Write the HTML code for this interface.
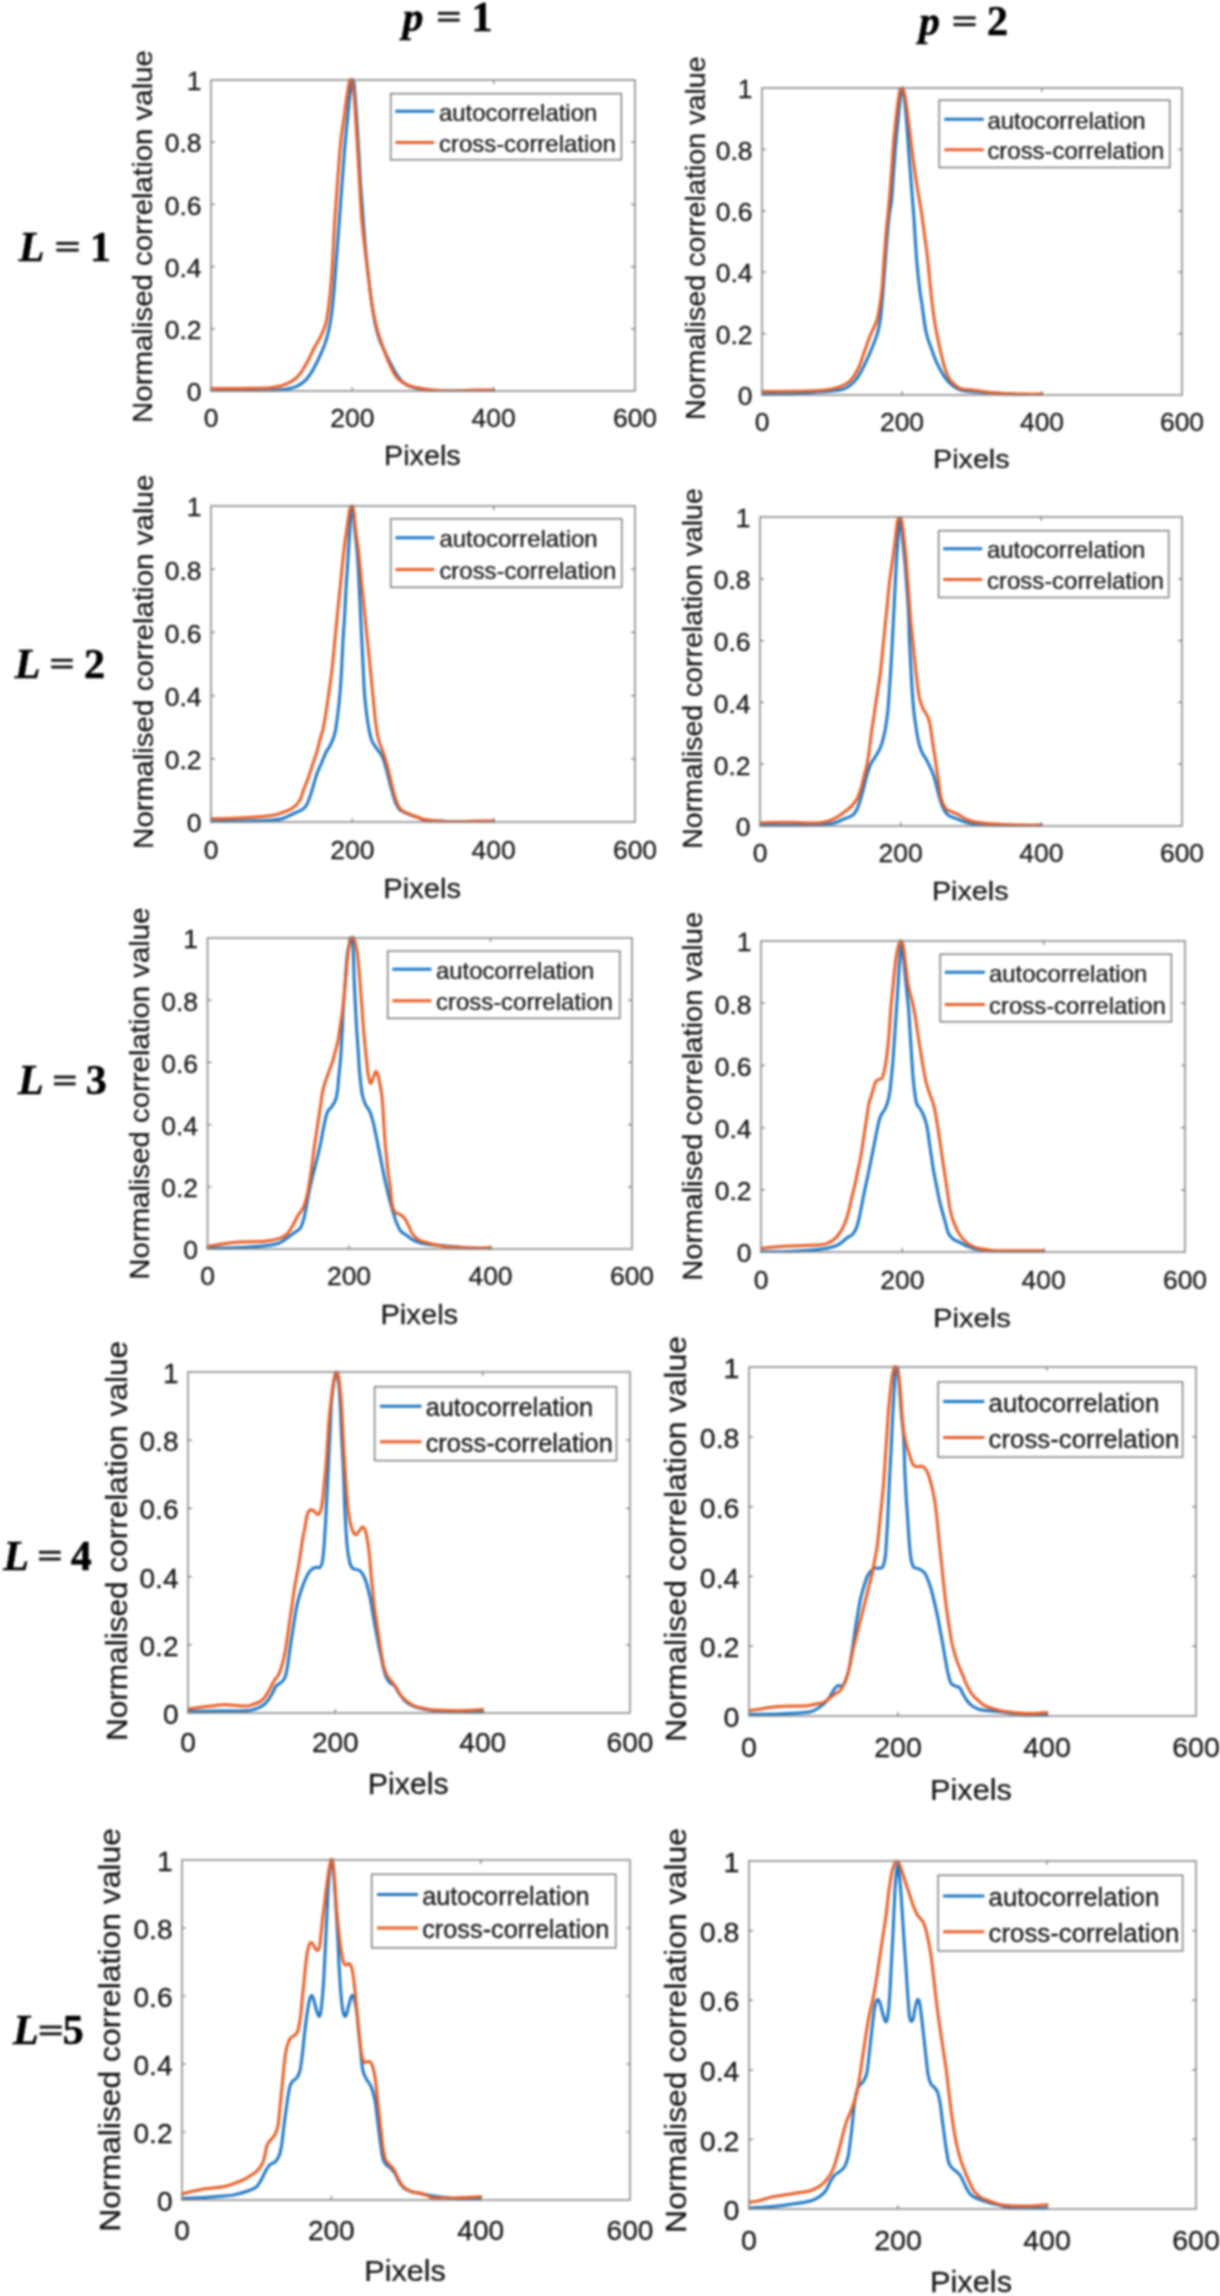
<!DOCTYPE html><html><head><meta charset="utf-8"><style>html,body{margin:0;padding:0;background:#fff;}svg{display:block;;}</style></head><body>
<svg width="1220" height="2296" viewBox="0 0 1220 2296">
<defs><filter id="bl" x="0" y="0" width="1" height="1" color-interpolation-filters="sRGB"><feGaussianBlur stdDeviation="0.8"/></filter></defs>
<g filter="url(#bl)">
<rect width="1220" height="2296" fill="#fff"/>
<g font-family="Liberation Sans, sans-serif">
<g><clipPath id="c0"><rect x="210" y="78" width="426" height="314"/></clipPath>
<path d="M211,390.4C215.7,390.4 229.4,390.3 239.3,390.4C249.1,390.4 262.4,390.9 270,390.8C277.6,390.6 280.3,390 284.8,389.3C289.2,388.5 293.1,387.8 296.6,386.3C300,384.8 302.7,383.1 305.4,380.4C308.1,377.7 310.3,374.2 312.8,370.1C315.2,365.9 318,360.2 320.2,355.3C322.4,350.4 324.5,345.5 326,340.6C327.6,335.7 328.7,330.7 329.7,325.8C330.7,320.9 331.2,317.2 332,311.1C332.7,304.9 333.4,297.5 334.2,288.9C334.9,280.3 335.6,269.2 336.4,259.4C337.1,249.6 337.9,239.8 338.6,229.9C339.4,220.1 340.1,210.3 340.8,200.4C341.5,190.6 342.3,180.7 343,170.9C343.7,161.1 344.5,150 345.3,141.4C346,132.8 346.7,126.6 347.5,119.2C348.2,111.9 348.9,103.5 349.6,97.1C350.4,90.7 351.4,83.7 351.9,80.9C352.4,78.1 352.3,79.7 352.6,80.2C353,80.6 353.5,78.6 354.1,83.9C354.7,89.1 355.5,101.1 356.3,111.9C357,122.7 357.8,136.5 358.6,148.8C359.3,161.1 360,174.6 360.7,185.6C361.5,196.7 362.2,205.3 362.9,215.2C363.7,225 364.3,234.8 365.2,244.7C366.1,254.5 367,264.4 368.1,274.2C369.2,284 370.6,295.1 371.8,303.7C373.1,312.3 374.2,319.7 375.5,325.8C376.9,332 377.8,335.2 379.9,340.6C382,346 385.2,352.6 388,358.3C390.8,363.9 394.1,370.3 396.9,374.5C399.6,378.7 401.3,381.1 404.3,383.3C407.2,385.6 409.9,386.6 414.6,387.8C419.3,389 426.4,390.2 432.3,390.8C438.2,391.3 442.7,391 450,391C457.3,391 468.7,390.7 476,390.7C483.3,390.6 490.7,390.7 493.7,390.7" fill="none" stroke="#1f78c6" stroke-width="3.0" stroke-linejoin="round" stroke-linecap="round" clip-path="url(#c0)"/>
<path d="M211,388.5C215.7,388.5 229.4,388.6 239.3,388.5C249.1,388.4 262.9,388.3 270,387.8C277.1,387.3 278.1,386.7 281.8,385.6C285.5,384.5 289.2,383 292.1,381.1C295.1,379.3 297,377.6 299.5,374.5C301.9,371.4 304.4,367.1 306.9,362.7C309.4,358.3 311.9,352.4 314.2,348C316.6,343.5 318.9,340.3 320.9,336.1C322.9,332 324.7,328.3 326,322.9C327.4,317.5 328.2,310.6 329,303.7C329.9,296.8 330.6,288.9 331.2,281.6C331.8,274.2 332.2,268 332.7,259.4C333.2,250.8 333.7,238.5 334.2,229.9C334.7,221.3 335,216.4 335.7,207.8C336.3,199.2 337,189.3 337.8,178.3C338.7,167.2 339.8,151.2 340.8,141.4C341.8,131.6 342.8,126.6 343.8,119.2C344.8,111.9 345.8,103.5 346.8,97.1C347.7,90.7 349,83.7 349.6,80.9C350.3,78.1 350.4,80.2 350.8,80.2C351.3,80.2 352,76.8 352.6,80.9C353.3,85 354.1,94.4 354.8,104.5C355.5,114.6 356.3,129.1 357.1,141.4C357.8,153.7 358.5,166 359.3,178.3C360,190.6 360.6,204.1 361.4,215.2C362.3,226.2 363.3,234.8 364.4,244.7C365.5,254.5 366.9,264.4 368.1,274.2C369.3,284 370.5,295.1 371.8,303.7C373.2,312.3 374.5,318.9 376.2,325.8C377.9,332.7 379.9,338.6 382.2,345C384.4,351.4 387.1,358.8 389.5,364.2C392,369.6 393.9,374 396.9,377.5C399.8,380.9 403.8,383.1 407.2,384.8C410.7,386.6 413.4,386.9 417.6,387.8C421.7,388.7 426.9,389.5 432.3,390C437.7,390.5 442.7,391 450,391C457.3,391 468.7,390.2 476,390.1C483.3,389.9 490.7,390.1 493.7,390.1" fill="none" stroke="#e8602a" stroke-width="3.0" stroke-linejoin="round" stroke-linecap="round" clip-path="url(#c0)"/>
<rect x="211" y="80" width="424" height="311" fill="none" stroke="#8a8a8a" stroke-width="1.6"/>
<path d="M352.3,391v-4 M352.3,80v4 M493.7,391v-4 M493.7,80v4 M211,328.8h4 M635,328.8h-4 M211,266.6h4 M635,266.6h-4 M211,204.4h4 M635,204.4h-4 M211,142.2h4 M635,142.2h-4" stroke="#777" stroke-width="1.2" fill="none"/>
<text transform="translate(211,427) scale(1.060,1)" font-size="25" text-anchor="middle" fill="#161616" stroke="#161616" stroke-width="0.25">0</text>
<text transform="translate(352.3,427) scale(1.060,1)" font-size="25" text-anchor="middle" fill="#161616" stroke="#161616" stroke-width="0.25">200</text>
<text transform="translate(493.7,427) scale(1.060,1)" font-size="25" text-anchor="middle" fill="#161616" stroke="#161616" stroke-width="0.25">400</text>
<text transform="translate(635,427) scale(1.060,1)" font-size="25" text-anchor="middle" fill="#161616" stroke="#161616" stroke-width="0.25">600</text>
<text transform="translate(201.5,401.2) scale(1.060,1)" font-size="25" text-anchor="end" fill="#161616" stroke="#161616" stroke-width="0.25">0</text>
<text transform="translate(201.5,339.1) scale(1.060,1)" font-size="25" text-anchor="end" fill="#161616" stroke="#161616" stroke-width="0.25">0.2</text>
<text transform="translate(201.5,276.9) scale(1.060,1)" font-size="25" text-anchor="end" fill="#161616" stroke="#161616" stroke-width="0.25">0.4</text>
<text transform="translate(201.5,214.7) scale(1.060,1)" font-size="25" text-anchor="end" fill="#161616" stroke="#161616" stroke-width="0.25">0.6</text>
<text transform="translate(201.5,152.4) scale(1.060,1)" font-size="25" text-anchor="end" fill="#161616" stroke="#161616" stroke-width="0.25">0.8</text>
<text transform="translate(201.5,90.2) scale(1.060,1)" font-size="25" text-anchor="end" fill="#161616" stroke="#161616" stroke-width="0.25">1</text>
<text transform="translate(422.3,465.3) scale(1.042,1)" font-size="27.6" text-anchor="middle" fill="#161616" stroke="#161616" stroke-width="0.25">Pixels</text>
<text transform="translate(151.9,236.5) rotate(-90) scale(1.082,1)" font-size="27.2" text-anchor="middle" fill="#161616" stroke="#161616" stroke-width="0.25">Normalised correlation value</text>
<rect x="390.7" y="93.6" width="230.7" height="66.2" fill="#fff" stroke="#6a6a6a" stroke-width="1.3"/>
<path d="M395.4,111.2H434.3" stroke="#1f78c6" stroke-width="3.0"/>
<path d="M395.4,142.5H434.3" stroke="#e8602a" stroke-width="3.0"/>
<text transform="translate(439,120.5) scale(1.023,1)" font-size="23.4" text-anchor="start" fill="#161616" stroke="#161616" stroke-width="0.25">autocorrelation</text>
<text transform="translate(439,151.8) scale(1.023,1)" font-size="23.4" text-anchor="start" fill="#161616" stroke="#161616" stroke-width="0.25">cross-correlation</text></g>
<g><clipPath id="c1"><rect x="761" y="86" width="422" height="310"/></clipPath>
<path d="M762,394.4C766.7,394.3 780.3,394.5 790,394.1C799.7,393.7 813.1,392.3 820,391.8C827,391.3 828.1,391.5 831.8,391.1C835.5,390.7 839.2,390.5 842.1,389.6C845.1,388.8 847,387.8 849.5,385.9C852,384.1 854.5,382 856.9,378.5C859.4,375.1 861.8,370.2 864.3,365.3C866.7,360.4 869.4,354.5 871.6,349C873.8,343.6 876.1,338 877.6,332.8C879.1,327.7 879.7,324.2 880.5,318.1C881.4,311.9 881.9,304.5 882.7,295.9C883.4,287.3 884.2,276.3 884.9,266.4C885.7,256.6 886.4,245.5 887.2,236.9C887.9,228.3 888.6,220.9 889.3,214.8C890.1,208.6 890.8,207.4 891.6,200C892.3,192.6 893,180.4 893.7,170.5C894.5,160.7 895.2,149.6 896,141C896.7,132.4 897.5,126.3 898.2,118.9C899,111.5 899.8,101.7 900.4,96.7C901,91.8 901.5,90.7 901.9,89.4C902.2,88 902,87.4 902.4,88.6C902.7,89.9 903.4,91.7 904.1,96.7C904.8,101.8 905.6,110.3 906.3,118.9C907.1,127.5 907.8,138.6 908.5,148.4C909.2,158.2 909.9,166.8 910.8,177.9C911.6,189 912.7,201.3 913.7,214.8C914.7,228.3 915.6,246.8 916.6,259.1C917.6,271.4 918.7,281.2 919.6,288.6C920.4,295.9 920.7,295.9 921.8,303.3C922.9,310.7 924.5,325 926.2,332.8C927.9,340.7 930.4,345.6 932.1,350.5C933.8,355.4 934.5,357.9 936.6,362.3C938.7,366.8 942,373.1 944.7,377.1C947.4,381 950,383.7 952.8,385.9C955.6,388.2 958,389.4 961.6,390.4C965.3,391.3 968.5,391.3 974.9,391.8C981.3,392.3 991.7,392.8 1000,393.3C1008.3,393.8 1017.5,394.5 1024.5,394.7C1031.5,394.9 1039.1,394.7 1042,394.7" fill="none" stroke="#1f78c6" stroke-width="3.0" stroke-linejoin="round" stroke-linecap="round" clip-path="url(#c1)"/>
<path d="M762,391.6C766.7,391.6 780.3,391.5 790,391.3C799.7,391.1 813.1,390.8 820,390.4C827,390 828.1,389.6 831.8,388.9C835.5,388.2 839,387.4 842.1,385.9C845.3,384.5 848.3,383 851,380C853.7,377.1 856.2,372.9 858.4,368.2C860.6,363.6 862.3,357.4 864.3,352C866.2,346.6 868.2,340.7 870.1,335.8C872.1,330.9 874.6,326.7 876.1,322.5C877.6,318.3 878.1,316.4 879,310.7C880,305 881.1,297.2 882,288.6C882.8,280 883.4,268.9 884.1,259.1C884.9,249.2 885.5,239.4 886.4,229.5C887.3,219.7 888.5,209.9 889.3,200C890.2,190.2 890.8,180.4 891.6,170.5C892.3,160.7 892.9,150.9 893.7,141C894.6,131.2 895.8,119.9 896.8,111.5C897.7,103.2 899,94.7 899.7,90.9C900.4,87 900.6,88.9 901.2,88.6C901.8,88.4 902.5,86.8 903.3,89.4C904.2,92 905.2,96.7 906.3,104.1C907.4,111.5 908.8,123.8 910,133.7C911.2,143.5 912.5,154.1 913.7,163.2C914.9,172.3 916,179.6 917.4,188.2C918.8,196.8 920.6,206.7 921.8,214.8C923,222.9 923.8,229.5 924.8,236.9C925.7,244.3 926.5,248 927.7,259.1C928.9,270.1 930.6,291 932.1,303.3C933.6,315.6 934.7,323 936.6,332.8C938.4,342.7 941.3,355 943.2,362.3C945.2,369.7 946.5,373.4 948.3,377.1C950.2,380.8 952.1,382.5 954.3,384.5C956.5,386.4 958.2,387.9 961.6,388.9C965.1,389.9 968.5,389.6 974.9,390.4C981.3,391.1 991.7,392.7 1000,393.3C1008.3,393.9 1017.5,394 1024.5,394.1C1031.5,394.2 1039.1,394.1 1042,394.1" fill="none" stroke="#e8602a" stroke-width="3.0" stroke-linejoin="round" stroke-linecap="round" clip-path="url(#c1)"/>
<rect x="762" y="88" width="420" height="307" fill="none" stroke="#8a8a8a" stroke-width="1.6"/>
<path d="M902,395v-4 M902,88v4 M1042,395v-4 M1042,88v4 M762,333.6h4 M1182,333.6h-4 M762,272.2h4 M1182,272.2h-4 M762,210.8h4 M1182,210.8h-4 M762,149.4h4 M1182,149.4h-4" stroke="#777" stroke-width="1.2" fill="none"/>
<text transform="translate(762,431) scale(1.060,1)" font-size="25" text-anchor="middle" fill="#161616" stroke="#161616" stroke-width="0.25">0</text>
<text transform="translate(902,431) scale(1.060,1)" font-size="25" text-anchor="middle" fill="#161616" stroke="#161616" stroke-width="0.25">200</text>
<text transform="translate(1042,431) scale(1.060,1)" font-size="25" text-anchor="middle" fill="#161616" stroke="#161616" stroke-width="0.25">400</text>
<text transform="translate(1182,431) scale(1.060,1)" font-size="25" text-anchor="middle" fill="#161616" stroke="#161616" stroke-width="0.25">600</text>
<text transform="translate(752.5,405.2) scale(1.060,1)" font-size="25" text-anchor="end" fill="#161616" stroke="#161616" stroke-width="0.25">0</text>
<text transform="translate(752.5,343.9) scale(1.060,1)" font-size="25" text-anchor="end" fill="#161616" stroke="#161616" stroke-width="0.25">0.2</text>
<text transform="translate(752.5,282.4) scale(1.060,1)" font-size="25" text-anchor="end" fill="#161616" stroke="#161616" stroke-width="0.25">0.4</text>
<text transform="translate(752.5,221.1) scale(1.060,1)" font-size="25" text-anchor="end" fill="#161616" stroke="#161616" stroke-width="0.25">0.6</text>
<text transform="translate(752.5,159.6) scale(1.060,1)" font-size="25" text-anchor="end" fill="#161616" stroke="#161616" stroke-width="0.25">0.8</text>
<text transform="translate(752.5,98.2) scale(1.060,1)" font-size="25" text-anchor="end" fill="#161616" stroke="#161616" stroke-width="0.25">1</text>
<text transform="translate(971.3,468.4) scale(1.117,1)" font-size="25.7" text-anchor="middle" fill="#161616" stroke="#161616" stroke-width="0.25">Pixels</text>
<text transform="translate(705,238.1) rotate(-90) scale(1.011,1)" font-size="28.4" text-anchor="middle" fill="#161616" stroke="#161616" stroke-width="0.25">Normalised correlation value</text>
<rect x="939.2" y="100.2" width="230.6" height="67.3" fill="#fff" stroke="#6a6a6a" stroke-width="1.3"/>
<path d="M944.3,119.3H983.7" stroke="#1f78c6" stroke-width="3.0"/>
<path d="M944.3,149.8H983.7" stroke="#e8602a" stroke-width="3.0"/>
<text transform="translate(987.4,128.7) scale(1.023,1)" font-size="23.4" text-anchor="start" fill="#161616" stroke="#161616" stroke-width="0.25">autocorrelation</text>
<text transform="translate(987.4,159.2) scale(1.023,1)" font-size="23.4" text-anchor="start" fill="#161616" stroke="#161616" stroke-width="0.25">cross-correlation</text></g>
<g><clipPath id="c2"><rect x="210" y="504" width="426" height="319"/></clipPath>
<path d="M211,821.4C215.7,821.3 229.4,821.3 239.3,821.1C249.1,820.9 262.9,820.6 270,820.2C277.1,819.8 278.1,819.7 281.8,818.7C285.5,817.7 288.4,816 292.1,814.3C295.8,812.5 301.2,810.6 303.9,808.3C306.6,806.1 306.9,804.4 308.4,801C309.9,797.5 311.3,792.4 312.8,787.7C314.2,783 315.7,777.1 317.2,773C318.7,768.8 320.2,766.1 321.7,762.6C323.1,759.2 324.6,755.2 326,752.3C327.5,749.3 329,748.1 330.5,744.9C332,741.7 333.7,738.3 334.9,733.1C336.2,727.9 337,720.8 337.8,713.9C338.7,707 339.5,699.2 340.1,691.8C340.7,684.4 341.1,678.3 341.6,669.7C342.1,661.1 342.5,648.8 343,640.2C343.5,631.6 344,626.6 344.5,618C345,609.4 345.5,597.1 346,588.5C346.5,579.9 347,573.8 347.5,566.4C348,559 348.4,551.6 348.9,544.3C349.4,536.9 350,527.8 350.4,522.1C350.8,516.5 351.1,512.9 351.4,510.3C351.7,507.7 351.7,506.4 352.1,506.6C352.4,506.9 352.9,508 353.4,511.8C353.9,515.6 354.2,522.9 354.8,529.5C355.4,536.1 356.4,544.3 357.1,551.6C357.7,559 358.1,565.2 358.6,573.8C359,582.4 359.5,593.4 360,603.3C360.4,613.1 361,622.9 361.4,632.8C361.9,642.6 362.4,652.5 362.9,662.3C363.4,672.1 363.8,683.2 364.4,691.8C365,700.4 365.9,707.8 366.6,713.9C367.4,720.1 368,724.3 368.9,728.7C369.7,733.1 370.6,737.3 371.8,740.5C373.1,743.7 374.5,745.2 376.2,747.9C377.9,750.6 380.4,753 382.2,756.7C383.9,760.4 385.1,764.8 386.5,770C388,775.2 389.5,782.3 391,787.7C392.5,793.1 394,798.8 395.4,802.5C396.9,806.2 397.6,807.9 399.8,809.8C402,811.8 405.7,813 408.7,814.3C411.6,815.5 414.6,816.1 417.6,817.2C420.5,818.3 422.7,820.3 426.4,820.9C430.1,821.5 435.7,820.8 439.7,820.9C443.6,821 443.9,821.5 450,821.7C456,821.8 468.7,821.7 476,821.7C483.3,821.7 490.7,821.7 493.7,821.7" fill="none" stroke="#1f78c6" stroke-width="3.0" stroke-linejoin="round" stroke-linecap="round" clip-path="url(#c2)"/>
<path d="M211,818.8C215.7,818.7 229.4,818.4 239.3,817.9C249.1,817.4 262.9,816.6 270,815.7C277.1,814.9 278.1,814 281.8,812.8C285.5,811.5 289.2,810.3 292.1,808.3C295.1,806.4 297.5,804.2 299.5,801C301.4,797.8 302.4,793.1 303.9,789.2C305.4,785.2 306.9,781.6 308.4,777.4C309.9,773.2 311.3,768.5 312.8,764.1C314.2,759.7 316,755 317.2,750.8C318.4,746.6 319.2,742.7 320.2,739C321.2,735.3 322.2,733.1 323.1,728.7C324.1,724.3 325.1,718.6 326,712.5C327,706.3 328,698.9 329,691.8C330,684.7 331,678.3 332,669.7C333,661.1 334,650 334.9,640.2C335.9,630.3 336.9,620.5 337.8,610.7C338.8,600.8 339.8,591 340.8,581.1C341.8,571.3 342.8,560.2 343.8,551.6C344.8,543 345.8,536.4 346.8,529.5C347.7,522.6 348.8,514.3 349.6,510.3C350.4,506.4 350.9,506.2 351.6,505.9C352.2,505.7 352.7,504.9 353.4,508.8C354.1,512.8 354.7,522.4 355.6,529.5C356.4,536.6 357.6,543 358.6,551.6C359.5,560.2 360.5,571.3 361.4,581.1C362.4,591 363.4,600.8 364.4,610.7C365.4,620.5 366.4,630.3 367.4,640.2C368.4,650 369.4,659.8 370.4,669.7C371.3,679.5 372.4,690.6 373.3,699.2C374.1,707.8 374.7,714.7 375.5,721.3C376.4,728 377.1,733.6 378.4,739C379.8,744.4 382,748.9 383.6,753.8C385.2,758.7 386.5,762.9 388,768.5C389.5,774.2 391,782.1 392.5,787.7C393.9,793.4 395.4,798.8 396.9,802.5C398.3,806.2 399.1,807.9 401.3,809.8C403.5,811.8 407.4,813 410.1,814.3C412.8,815.5 415.1,816.4 417.6,817.2C420,818.1 419.5,818.7 424.9,819.4C430.3,820.2 441.5,821.4 450,821.7C458.5,821.9 468.7,821.2 476,821.1C483.3,821 490.7,821.1 493.7,821.1" fill="none" stroke="#e8602a" stroke-width="3.0" stroke-linejoin="round" stroke-linecap="round" clip-path="url(#c2)"/>
<rect x="211" y="506" width="424" height="316" fill="none" stroke="#8a8a8a" stroke-width="1.6"/>
<path d="M352.3,822v-4 M352.3,506v4 M493.7,822v-4 M493.7,506v4 M211,758.8h4 M635,758.8h-4 M211,695.6h4 M635,695.6h-4 M211,632.4h4 M635,632.4h-4 M211,569.2h4 M635,569.2h-4" stroke="#777" stroke-width="1.2" fill="none"/>
<text transform="translate(211,858.5) scale(1.060,1)" font-size="25" text-anchor="middle" fill="#161616" stroke="#161616" stroke-width="0.25">0</text>
<text transform="translate(352.3,858.5) scale(1.060,1)" font-size="25" text-anchor="middle" fill="#161616" stroke="#161616" stroke-width="0.25">200</text>
<text transform="translate(493.7,858.5) scale(1.060,1)" font-size="25" text-anchor="middle" fill="#161616" stroke="#161616" stroke-width="0.25">400</text>
<text transform="translate(635,858.5) scale(1.060,1)" font-size="25" text-anchor="middle" fill="#161616" stroke="#161616" stroke-width="0.25">600</text>
<text transform="translate(201.5,832.2) scale(1.060,1)" font-size="25" text-anchor="end" fill="#161616" stroke="#161616" stroke-width="0.25">0</text>
<text transform="translate(201.5,769) scale(1.060,1)" font-size="25" text-anchor="end" fill="#161616" stroke="#161616" stroke-width="0.25">0.2</text>
<text transform="translate(201.5,705.9) scale(1.060,1)" font-size="25" text-anchor="end" fill="#161616" stroke="#161616" stroke-width="0.25">0.4</text>
<text transform="translate(201.5,642.6) scale(1.060,1)" font-size="25" text-anchor="end" fill="#161616" stroke="#161616" stroke-width="0.25">0.6</text>
<text transform="translate(201.5,579.5) scale(1.060,1)" font-size="25" text-anchor="end" fill="#161616" stroke="#161616" stroke-width="0.25">0.8</text>
<text transform="translate(201.5,516.2) scale(1.060,1)" font-size="25" text-anchor="end" fill="#161616" stroke="#161616" stroke-width="0.25">1</text>
<text transform="translate(422.2,897.8) scale(1.072,1)" font-size="27.2" text-anchor="middle" fill="#161616" stroke="#161616" stroke-width="0.25">Pixels</text>
<text transform="translate(152.7,661.8) rotate(-90) scale(1.059,1)" font-size="27.9" text-anchor="middle" fill="#161616" stroke="#161616" stroke-width="0.25">Normalised correlation value</text>
<rect x="390.7" y="518.8" width="231.1" height="68.5" fill="#fff" stroke="#6a6a6a" stroke-width="1.3"/>
<path d="M395.4,537.7H434.3" stroke="#1f78c6" stroke-width="3.0"/>
<path d="M395.4,569.4H434.3" stroke="#e8602a" stroke-width="3.0"/>
<text transform="translate(439.4,547.1) scale(1.023,1)" font-size="23.4" text-anchor="start" fill="#161616" stroke="#161616" stroke-width="0.25">autocorrelation</text>
<text transform="translate(439.4,578.8) scale(1.023,1)" font-size="23.4" text-anchor="start" fill="#161616" stroke="#161616" stroke-width="0.25">cross-correlation</text></g>
<g><clipPath id="c3"><rect x="759" y="515" width="424" height="312"/></clipPath>
<path d="M760,825.4C764.7,825.4 778.1,825.4 788.1,825.4C798.1,825.3 812.2,825.4 820,825C827.8,824.6 830.8,823.8 834.8,822.8C838.7,821.8 840.7,820.3 843.6,819.1C846.6,817.9 850.3,817 852.5,815.4C854.7,813.8 855.6,812.2 856.9,809.5C858.3,806.8 859.4,803.1 860.6,799.2C861.8,795.2 863.1,790.1 864.2,785.9C865.3,781.7 866.2,777.5 867.2,774.1C868.2,770.6 868.9,768 870.1,765.3C871.4,762.5 873.1,760.3 874.6,757.9C876,755.4 877.8,752.9 879,750.5C880.2,748 881,746.3 882,743.1C882.9,739.9 884,735.8 884.9,731.3C885.8,726.9 886.5,721.5 887.2,716.6C887.8,711.6 888.1,708 888.6,701.8C889.1,695.7 889.6,687 890.1,679.7C890.6,672.3 891,666.1 891.5,657.5C892,648.9 892.5,637.9 893,628C893.5,618.2 894,608.4 894.5,598.5C895,588.7 895.5,577.6 896,569C896.4,560.4 896.9,553.8 897.4,546.9C897.9,540 898.5,532.1 898.9,527.7C899.3,523.3 899.5,521.9 899.7,520.3C899.9,518.7 899.9,517.9 900.1,518.1C900.4,518.4 900.7,518.2 901.2,521.8C901.6,525.4 902,532.9 902.6,539.5C903.2,546.1 904.1,553 904.8,561.7C905.6,570.3 906.4,582.6 907.1,591.2C907.7,599.8 908.2,605.9 908.5,613.3C908.9,620.7 909,628 909.2,635.4C909.5,642.8 909.9,650.2 910.3,657.5C910.7,664.9 911.1,672.3 911.5,679.7C911.9,687 912.5,695.7 913,701.8C913.5,708 913.8,711.6 914.5,716.6C915.1,721.5 915.9,726.9 916.6,731.3C917.4,735.8 918,739.7 918.9,743.1C919.8,746.6 920.6,749.3 921.8,752C923.1,754.7 924.8,756.9 926.2,759.3C927.5,761.8 928.7,764 929.9,766.7C931.2,769.4 932.5,772.4 933.6,775.6C934.7,778.8 935.6,782.2 936.5,785.9C937.5,789.6 938.3,793.8 939.5,797.7C940.7,801.6 942.4,806.5 943.9,809.5C945.4,812.5 946.4,813.9 948.4,815.4C950.3,816.9 952.5,817.1 955.7,818.4C958.9,819.6 963.1,821.8 967.6,822.8C972,823.8 976.9,823.8 982.3,824.3C987.7,824.8 993.1,825.5 1000,825.8C1006.9,826 1016.9,825.7 1023.8,825.7C1030.6,825.7 1038.4,825.7 1041.3,825.7" fill="none" stroke="#1f78c6" stroke-width="3.0" stroke-linejoin="round" stroke-linecap="round" clip-path="url(#c3)"/>
<path d="M760,822.9C764.7,822.8 778.1,822.3 788.1,822.3C798.1,822.3 812.2,823.4 820,822.8C827.8,822.1 830.8,820.1 834.8,818.4C838.7,816.6 840.9,814.4 843.6,812.5C846.3,810.5 848.8,808.8 851,806.6C853.2,804.3 855.2,802.4 856.9,799.2C858.6,796 860.1,791.3 861.3,787.4C862.5,783.4 863.2,779.5 864.2,775.6C865.2,771.6 866.3,768.2 867.2,763.8C868.1,759.3 868.7,754.4 869.4,749C870.2,743.6 870.9,736.7 871.6,731.3C872.4,725.9 873.1,721.5 873.9,716.6C874.6,711.6 875.3,706.7 876,701.8C876.8,696.9 877.6,692 878.3,687C879,682.1 879.7,678.4 880.5,672.3C881.2,666.2 882,657.6 882.7,650.2C883.5,642.8 884.2,635.4 884.9,628C885.7,620.6 886.4,613.3 887.2,605.9C887.9,598.5 888.5,591.1 889.3,583.8C890.2,576.4 891.3,569 892.3,561.7C893.3,554.3 894.4,546.1 895.3,539.5C896.1,532.9 896.7,525.5 897.4,521.8C898.2,518.1 898.9,517.4 899.7,517.4C900.4,517.4 901.1,518.1 901.9,521.8C902.6,525.5 903.4,532.9 904.1,539.5C904.9,546.1 905.6,553 906.3,561.7C907,570.3 907.8,581.3 908.5,591.2C909.3,601 910,612.1 910.7,620.7C911.5,629.3 912.2,635.4 913,642.8C913.7,650.2 914.4,658 915.2,664.9C915.9,671.8 916.7,678.5 917.4,684.1C918.1,689.8 918.6,694.7 919.6,698.8C920.6,703 921.9,706.2 923.2,709.2C924.6,712.1 926.6,714.1 927.7,716.6C928.8,719 929.2,720.2 929.9,723.9C930.7,727.6 931.4,733.8 932.1,738.7C932.8,743.6 933.6,748.5 934.4,753.4C935.1,758.4 935.8,763.3 936.5,768.2C937.3,773.1 938,778 938.8,783C939.5,787.9 939.9,793.5 941,797.7C942.1,801.9 943.9,805.8 945.4,808C946.9,810.3 947.9,810 949.8,811C951.8,812 954.8,812.7 957.2,813.9C959.7,815.2 961.6,817 964.6,818.4C967.6,819.7 969,821.1 974.9,822C980.8,823 991.8,823.8 1000,824.3C1008.1,824.8 1016.9,824.9 1023.8,825.1C1030.6,825.2 1038.4,825.1 1041.3,825.1" fill="none" stroke="#e8602a" stroke-width="3.0" stroke-linejoin="round" stroke-linecap="round" clip-path="url(#c3)"/>
<rect x="760" y="517" width="422" height="309" fill="none" stroke="#8a8a8a" stroke-width="1.6"/>
<path d="M900.7,826v-4 M900.7,517v4 M1041.3,826v-4 M1041.3,517v4 M760,764.2h4 M1182,764.2h-4 M760,702.4h4 M1182,702.4h-4 M760,640.6h4 M1182,640.6h-4 M760,578.8h4 M1182,578.8h-4" stroke="#777" stroke-width="1.2" fill="none"/>
<text transform="translate(760,862) scale(1.060,1)" font-size="25" text-anchor="middle" fill="#161616" stroke="#161616" stroke-width="0.25">0</text>
<text transform="translate(900.7,862) scale(1.060,1)" font-size="25" text-anchor="middle" fill="#161616" stroke="#161616" stroke-width="0.25">200</text>
<text transform="translate(1041.3,862) scale(1.060,1)" font-size="25" text-anchor="middle" fill="#161616" stroke="#161616" stroke-width="0.25">400</text>
<text transform="translate(1182,862) scale(1.060,1)" font-size="25" text-anchor="middle" fill="#161616" stroke="#161616" stroke-width="0.25">600</text>
<text transform="translate(750.5,836.2) scale(1.060,1)" font-size="25" text-anchor="end" fill="#161616" stroke="#161616" stroke-width="0.25">0</text>
<text transform="translate(750.5,774.5) scale(1.060,1)" font-size="25" text-anchor="end" fill="#161616" stroke="#161616" stroke-width="0.25">0.2</text>
<text transform="translate(750.5,712.6) scale(1.060,1)" font-size="25" text-anchor="end" fill="#161616" stroke="#161616" stroke-width="0.25">0.4</text>
<text transform="translate(750.5,650.9) scale(1.060,1)" font-size="25" text-anchor="end" fill="#161616" stroke="#161616" stroke-width="0.25">0.6</text>
<text transform="translate(750.5,589) scale(1.060,1)" font-size="25" text-anchor="end" fill="#161616" stroke="#161616" stroke-width="0.25">0.8</text>
<text transform="translate(750.5,527.2) scale(1.060,1)" font-size="25" text-anchor="end" fill="#161616" stroke="#161616" stroke-width="0.25">1</text>
<text transform="translate(970.2,899.5) scale(1.122,1)" font-size="25.6" text-anchor="middle" fill="#161616" stroke="#161616" stroke-width="0.25">Pixels</text>
<text transform="translate(701.7,668.5) rotate(-90) scale(1.062,1)" font-size="26.8" text-anchor="middle" fill="#161616" stroke="#161616" stroke-width="0.25">Normalised correlation value</text>
<rect x="938.6" y="530.7" width="230.1" height="66.8" fill="#fff" stroke="#6a6a6a" stroke-width="1.3"/>
<path d="M943.3,548.7H982.3" stroke="#1f78c6" stroke-width="3.0"/>
<path d="M943.3,579.4H982.3" stroke="#e8602a" stroke-width="3.0"/>
<text transform="translate(987,558.1) scale(1.023,1)" font-size="23.4" text-anchor="start" fill="#161616" stroke="#161616" stroke-width="0.25">autocorrelation</text>
<text transform="translate(987,588.8) scale(1.023,1)" font-size="23.4" text-anchor="start" fill="#161616" stroke="#161616" stroke-width="0.25">cross-correlation</text></g>
<g><clipPath id="c4"><rect x="206.5" y="936" width="426.5" height="314"/></clipPath>
<path d="M207.5,1248.1C212.2,1248 226.2,1248.1 235.8,1247.8C245.4,1247.4 257.7,1246.6 265,1245.7C272.3,1244.9 275.8,1244.3 279.7,1242.8C283.7,1241.3 286.1,1238.6 288.6,1236.9C291,1235.2 292.6,1233.9 294.5,1232.5C296.5,1231 298.8,1230.5 300.4,1228C302,1225.6 303,1221.9 304.1,1217.7C305.2,1213.5 306.2,1207.4 307,1202.9C307.9,1198.5 308.4,1195.3 309.2,1191.2C310.1,1187 311.2,1182.1 312.2,1177.9C313.2,1173.7 314.2,1170 315.2,1166.1C316.2,1162.1 317.1,1158.4 318.1,1154.3C319.1,1150.1 320.2,1145.2 321.1,1141C321.9,1136.8 322.5,1132.9 323.2,1129.2C324,1125.5 324.8,1121.8 325.5,1118.8C326.3,1115.9 326.7,1113.4 327.7,1111.5C328.7,1109.5 330.2,1108.8 331.4,1107.1C332.6,1105.3 334.1,1103.6 335.1,1101.2C336.1,1098.7 336.7,1096.2 337.3,1092.3C337.9,1088.4 338.3,1082.5 338.7,1077.5C339.2,1072.6 339.8,1067.7 340.2,1062.8C340.7,1057.9 341,1052.9 341.3,1048C341.6,1043.1 341.8,1039.4 342.1,1033.3C342.5,1027.1 342.8,1018.5 343.2,1011.1C343.6,1003.8 344.2,996.4 344.7,989C345.2,981.6 345.7,973 346.2,966.9C346.7,960.7 347,956.3 347.7,952.1C348.3,947.9 349.2,944.3 349.8,941.8C350.5,939.3 350.8,936.9 351.3,937.4C351.8,937.9 352.5,941.1 352.8,944.7C353.2,948.4 353.3,953.4 353.5,959.5C353.8,965.7 353.9,974.3 354.2,981.6C354.5,989 354.9,996.4 355.3,1003.8C355.7,1011.2 356.1,1018.5 356.5,1025.9C356.9,1033.3 357.5,1040.7 358,1048C358.5,1055.4 358.9,1064 359.4,1070.2C359.9,1076.3 360.4,1080.7 360.9,1084.9C361.4,1089.1 361.6,1092 362.4,1095.2C363.1,1098.4 364.1,1101.4 365.3,1104.1C366.6,1106.8 368.5,1108.8 369.7,1111.5C371,1114.2 371.7,1116.6 372.7,1120.3C373.7,1124 374.7,1128.9 375.7,1133.6C376.7,1138.3 377.6,1143.4 378.6,1148.4C379.6,1153.3 380.6,1158.2 381.5,1163.1C382.5,1168 383.5,1173.2 384.5,1177.9C385.5,1182.5 386.5,1187 387.5,1191.2C388.5,1195.3 389.4,1199.3 390.4,1202.9C391.4,1206.6 392.4,1210.1 393.4,1213.3C394.4,1216.5 395.1,1219.2 396.3,1222.1C397.6,1225.1 399,1228.8 400.7,1231C402.4,1233.2 404.7,1233.9 406.7,1235.4C408.6,1236.9 410.3,1238.6 412.5,1239.8C414.7,1241.1 417.4,1242 419.9,1242.8C422.4,1243.5 423.1,1243.8 427.3,1244.3C431.5,1244.8 437.4,1245.1 445,1245.7C452.6,1246.4 465.2,1247.9 472.8,1248.4C480.4,1248.8 487.6,1248.4 490.5,1248.4" fill="none" stroke="#1f78c6" stroke-width="3.0" stroke-linejoin="round" stroke-linecap="round" clip-path="url(#c4)"/>
<path d="M207.5,1246.5C211.9,1245.8 224.1,1243.3 233.7,1242.5C243.3,1241.6 257.3,1242 265,1241.3C272.7,1240.6 276,1239.6 279.7,1238.4C283.4,1237.1 284.9,1236.2 287.2,1233.9C289.4,1231.7 291.3,1228 293,1225.1C294.8,1222.1 295.8,1219.2 297.5,1216.2C299.2,1213.3 301.8,1210.8 303.4,1207.4C305,1203.9 306.1,1199.5 307,1195.6C308,1191.6 308.5,1188.2 309.2,1183.8C310,1179.4 310.8,1174.4 311.5,1169C312.2,1163.6 313,1156.7 313.7,1151.3C314.4,1145.9 315.2,1141.5 315.9,1136.5C316.6,1131.6 317.3,1126.7 318.1,1121.8C318.8,1116.9 319.6,1112 320.3,1107.1C321.1,1102.1 321.8,1096.2 322.5,1092.3C323.3,1088.4 323.8,1086.6 324.7,1083.5C325.7,1080.3 327.2,1076.6 328.4,1073.1C329.6,1069.7 331.1,1066.2 332.2,1062.8C333.3,1059.3 334.1,1056.1 335.1,1052.4C336,1048.8 337.2,1045.1 338,1040.7C338.9,1036.2 339.5,1030.8 340.2,1025.9C341,1021 341.7,1017.3 342.5,1011.1C343.2,1005 344.1,995.2 344.7,989C345.3,982.9 345.7,979.7 346.2,974.3C346.7,968.9 347,962 347.7,956.6C348.3,951.2 349,945.1 349.8,941.8C350.7,938.5 352,936.6 352.8,936.6C353.7,936.6 354.3,939.2 355,941.8C355.7,944.4 356.5,946.7 357.2,952.1C357.9,957.5 358.7,965.7 359.4,974.3C360.1,982.9 360.9,993.9 361.7,1003.8C362.4,1013.6 363.1,1024.7 363.9,1033.3C364.6,1041.9 365.3,1048.5 366.1,1055.4C366.8,1062.3 367.5,1069.9 368.2,1074.6C369,1079.3 369.6,1083 370.5,1083.5C371.4,1083.9 372.5,1079.5 373.4,1077.5C374.3,1075.6 374.9,1072.1 375.7,1071.6C376.4,1071.1 377.1,1072.4 377.9,1074.6C378.6,1076.8 379.3,1080.7 380.1,1084.9C380.8,1089.1 381.7,1093.5 382.3,1099.7C382.9,1105.8 383.3,1114.4 383.7,1121.8C384.2,1129.2 384.7,1137.8 385.2,1143.9C385.7,1150.1 386.2,1153.8 386.7,1158.7C387.2,1163.6 387.6,1168.5 388.2,1173.5C388.8,1178.4 389.8,1183.3 390.4,1188.2C391,1193.1 391.1,1199 391.9,1202.9C392.6,1206.9 393.4,1209.8 394.8,1211.8C396.3,1213.8 399,1213.5 400.7,1214.8C402.4,1216 403.8,1217.2 405.2,1219.2C406.5,1221.1 407.6,1224.1 408.9,1226.5C410.1,1229 410.9,1231.7 412.5,1233.9C414.1,1236.2 416,1238.4 418.5,1239.8C420.9,1241.3 422.9,1241.7 427.3,1242.8C431.7,1243.9 437.4,1245.7 445,1246.5C452.6,1247.3 465.2,1247.5 472.8,1247.8C480.4,1248 487.6,1247.8 490.5,1247.8" fill="none" stroke="#e8602a" stroke-width="3.0" stroke-linejoin="round" stroke-linecap="round" clip-path="url(#c4)"/>
<rect x="207.5" y="938" width="424.5" height="311" fill="none" stroke="#8a8a8a" stroke-width="1.6"/>
<path d="M349,1249v-4 M349,938v4 M490.5,1249v-4 M490.5,938v4 M207.5,1186.8h4 M632,1186.8h-4 M207.5,1124.6h4 M632,1124.6h-4 M207.5,1062.4h4 M632,1062.4h-4 M207.5,1000.2h4 M632,1000.2h-4" stroke="#777" stroke-width="1.2" fill="none"/>
<text transform="translate(207.5,1285) scale(1.060,1)" font-size="25" text-anchor="middle" fill="#161616" stroke="#161616" stroke-width="0.25">0</text>
<text transform="translate(349,1285) scale(1.060,1)" font-size="25" text-anchor="middle" fill="#161616" stroke="#161616" stroke-width="0.25">200</text>
<text transform="translate(490.5,1285) scale(1.060,1)" font-size="25" text-anchor="middle" fill="#161616" stroke="#161616" stroke-width="0.25">400</text>
<text transform="translate(632,1285) scale(1.060,1)" font-size="25" text-anchor="middle" fill="#161616" stroke="#161616" stroke-width="0.25">600</text>
<text transform="translate(198,1259.2) scale(1.060,1)" font-size="25" text-anchor="end" fill="#161616" stroke="#161616" stroke-width="0.25">0</text>
<text transform="translate(198,1197) scale(1.060,1)" font-size="25" text-anchor="end" fill="#161616" stroke="#161616" stroke-width="0.25">0.2</text>
<text transform="translate(198,1134.8) scale(1.060,1)" font-size="25" text-anchor="end" fill="#161616" stroke="#161616" stroke-width="0.25">0.4</text>
<text transform="translate(198,1072.7) scale(1.060,1)" font-size="25" text-anchor="end" fill="#161616" stroke="#161616" stroke-width="0.25">0.6</text>
<text transform="translate(198,1010.5) scale(1.060,1)" font-size="25" text-anchor="end" fill="#161616" stroke="#161616" stroke-width="0.25">0.8</text>
<text transform="translate(198,948.2) scale(1.060,1)" font-size="25" text-anchor="end" fill="#161616" stroke="#161616" stroke-width="0.25">1</text>
<text transform="translate(419.3,1323.8) scale(1.072,1)" font-size="27.2" text-anchor="middle" fill="#161616" stroke="#161616" stroke-width="0.25">Pixels</text>
<text transform="translate(149.2,1093.6) rotate(-90) scale(1.049,1)" font-size="28" text-anchor="middle" fill="#161616" stroke="#161616" stroke-width="0.25">Normalised correlation value</text>
<rect x="387.7" y="951.1" width="232.2" height="67.3" fill="#fff" stroke="#6a6a6a" stroke-width="1.3"/>
<path d="M392.4,969.2H431.4" stroke="#1f78c6" stroke-width="3.0"/>
<path d="M392.4,1000.7H431.4" stroke="#e8602a" stroke-width="3.0"/>
<text transform="translate(436,978.6) scale(1.023,1)" font-size="23.4" text-anchor="start" fill="#161616" stroke="#161616" stroke-width="0.25">autocorrelation</text>
<text transform="translate(436,1010.1) scale(1.023,1)" font-size="23.4" text-anchor="start" fill="#161616" stroke="#161616" stroke-width="0.25">cross-correlation</text></g>
<g><clipPath id="c5"><rect x="760" y="939" width="426" height="314"/></clipPath>
<path d="M761,1251.7C765.7,1251.6 779.4,1251.8 789.3,1251.4C799.1,1251 812.4,1250.1 820,1249.3C827.6,1248.4 831.1,1247.5 834.8,1246.3C838.5,1245.1 840.2,1243.2 842.1,1241.9C844.1,1240.5 844.9,1239.4 846.6,1238.2C848.3,1237 850.9,1236.1 852.4,1234.5C854,1232.9 855,1231.3 856.1,1228.6C857.2,1225.9 858.1,1222.5 859.1,1218.3C860.1,1214.1 861.1,1208.4 862.1,1203.5C863,1198.6 864,1193.4 865,1188.8C866,1184.1 866.9,1180.2 867.9,1175.5C868.9,1170.8 869.9,1165.7 870.9,1160.8C871.9,1155.8 872.9,1150.9 873.9,1146C874.8,1141.1 876,1135.4 876.8,1131.2C877.7,1127.1 878.3,1123.6 879,1120.9C879.7,1118.2 880.2,1117 881.2,1115C882.2,1113 883.8,1111.3 884.9,1109.1C886.1,1106.9 887,1104.9 887.8,1101.7C888.7,1098.5 889.5,1094.3 890.1,1089.9C890.7,1085.5 891.1,1080.1 891.6,1075.2C892.1,1070.3 892.5,1066.6 893,1060.4C893.5,1054.3 894,1045.7 894.5,1038.3C895,1030.9 895.5,1023.5 896,1016.1C896.5,1008.8 897,1001.4 897.5,994C898,986.6 898.4,978.8 898.9,971.9C899.4,965 900,957.1 900.4,952.7C900.9,948.3 901.2,945.8 901.6,945.3C901.9,944.8 902.2,946.5 902.6,949.7C903,952.9 903.5,958.4 904.1,964.5C904.7,970.7 905.5,979.3 906.3,986.7C907,994 907.9,1001.4 908.6,1008.8C909.2,1016.1 909.5,1023.5 910,1030.9C910.4,1038.3 911,1045.6 911.4,1053C911.9,1060.4 912.4,1069 912.9,1075.2C913.4,1081.3 913.8,1085.2 914.4,1089.9C915,1094.6 915.6,1100 916.6,1103.2C917.6,1106.4 919.1,1106.9 920.4,1109.1C921.6,1111.3 922.9,1113.5 924,1116.5C925.1,1119.4 926.1,1122.6 927,1126.8C927.9,1131 928.5,1136.6 929.2,1141.6C929.9,1146.5 930.6,1151.4 931.4,1156.3C932.1,1161.2 932.8,1166.2 933.6,1171.1C934.5,1176 935.6,1180.9 936.5,1185.8C937.5,1190.7 938.5,1196.1 939.5,1200.6C940.5,1205 941.5,1208.7 942.5,1212.4C943.5,1216.1 944.5,1219.3 945.4,1222.7C946.4,1226.1 947.1,1230.3 948.3,1233C949.6,1235.7 951.1,1237.5 952.8,1238.9C954.5,1240.4 956.2,1240.7 958.7,1241.9C961.1,1243.1 964.6,1245.1 967.6,1246.3C970.5,1247.5 972.7,1248.5 976.4,1249.3C980.1,1250 985.7,1250.4 989.7,1250.7C993.6,1251.1 993.9,1251.4 1000,1251.5C1006,1251.6 1018.7,1251.4 1026,1251.4C1033.3,1251.4 1040.7,1251.4 1043.7,1251.4" fill="none" stroke="#1f78c6" stroke-width="3.0" stroke-linejoin="round" stroke-linecap="round" clip-path="url(#c5)"/>
<path d="M761,1248.3C765.7,1247.9 779.4,1246.7 789.3,1246.1C799.1,1245.5 813.4,1245.4 820,1244.8C826.6,1244.3 826.4,1243.6 828.8,1242.6C831.3,1241.6 832.8,1240.8 834.8,1238.9C836.7,1237.1 838.9,1234.3 840.6,1231.6C842.4,1228.9 843.7,1226.1 845.1,1222.7C846.4,1219.3 847.7,1215.1 848.8,1210.9C849.9,1206.7 850.6,1202.3 851.7,1197.6C852.8,1193 854.3,1187.8 855.4,1182.9C856.5,1177.9 857.4,1173 858.4,1168.1C859.4,1163.2 860.4,1159 861.3,1153.4C862.3,1147.7 863.4,1139.8 864.2,1134.2C865.1,1128.5 865.8,1124.3 866.5,1119.4C867.2,1114.5 868,1108.4 868.7,1104.7C869.4,1101 870.1,1099.8 870.9,1097.3C871.6,1094.8 872.4,1092.4 873.1,1089.9C873.9,1087.4 874.5,1084.3 875.3,1082.5C876.2,1080.8 877.2,1080.3 878.3,1079.6C879.4,1078.8 880.9,1080.1 882,1078.1C883.1,1076.2 884.1,1072 884.9,1067.8C885.8,1063.6 886.4,1059.2 887.1,1053C887.9,1046.9 888.7,1038.3 889.3,1030.9C889.9,1023.5 890.2,1016.1 890.8,1008.8C891.4,1001.4 892.3,994 893,986.7C893.7,979.3 894.5,970.7 895.3,964.5C896,958.4 896.7,953.4 897.5,949.7C898.2,946 899,943.8 899.6,942.4C900.3,940.9 900.5,940.2 901.1,940.9C901.8,941.6 902.7,942.9 903.4,946.8C904.1,950.7 904.7,957.9 905.6,964.5C906.4,971.2 907.4,980.5 908.6,986.7C909.7,992.8 911.1,996.5 912.2,1001.4C913.3,1006.3 914.3,1011.2 915.2,1016.1C916.1,1021.1 916.5,1025.3 917.4,1030.9C918.2,1036.6 919.4,1043.9 920.4,1050.1C921.3,1056.2 922.3,1062.4 923.3,1067.8C924.2,1073.2 925.1,1078.1 926.2,1082.5C927.3,1087 928.7,1090.7 929.9,1094.4C931.1,1098 932.5,1100.5 933.6,1104.7C934.7,1108.9 935.7,1114.5 936.5,1119.4C937.4,1124.3 938.1,1129.3 938.8,1134.2C939.5,1139.1 940.3,1144 941,1148.9C941.7,1153.8 942.4,1158.8 943.2,1163.7C943.9,1168.6 944.7,1173.5 945.4,1178.4C946.2,1183.4 946.9,1188.3 947.6,1193.2C948.4,1198.1 949,1203.5 949.8,1208C950.7,1212.4 951.6,1216.1 952.8,1219.7C954,1223.4 955.8,1227.1 957.2,1230.1C958.7,1233 959.9,1235.2 961.6,1237.4C963.3,1239.7 965.1,1241.6 967.6,1243.4C970,1245.1 972.7,1246.7 976.4,1247.8C980.1,1248.9 985.7,1249.5 989.7,1250C993.6,1250.5 993.9,1250.6 1000,1250.7C1006,1250.8 1018.7,1250.8 1026,1250.8C1033.3,1250.8 1040.7,1250.8 1043.7,1250.8" fill="none" stroke="#e8602a" stroke-width="3.0" stroke-linejoin="round" stroke-linecap="round" clip-path="url(#c5)"/>
<rect x="761" y="941" width="424" height="311" fill="none" stroke="#8a8a8a" stroke-width="1.6"/>
<path d="M902.3,1252v-4 M902.3,941v4 M1043.7,1252v-4 M1043.7,941v4 M761,1189.8h4 M1185,1189.8h-4 M761,1127.6h4 M1185,1127.6h-4 M761,1065.4h4 M1185,1065.4h-4 M761,1003.2h4 M1185,1003.2h-4" stroke="#777" stroke-width="1.2" fill="none"/>
<text transform="translate(761,1288.5) scale(1.060,1)" font-size="25" text-anchor="middle" fill="#161616" stroke="#161616" stroke-width="0.25">0</text>
<text transform="translate(902.3,1288.5) scale(1.060,1)" font-size="25" text-anchor="middle" fill="#161616" stroke="#161616" stroke-width="0.25">200</text>
<text transform="translate(1043.7,1288.5) scale(1.060,1)" font-size="25" text-anchor="middle" fill="#161616" stroke="#161616" stroke-width="0.25">400</text>
<text transform="translate(1185,1288.5) scale(1.060,1)" font-size="25" text-anchor="middle" fill="#161616" stroke="#161616" stroke-width="0.25">600</text>
<text transform="translate(751.5,1262.2) scale(1.060,1)" font-size="25" text-anchor="end" fill="#161616" stroke="#161616" stroke-width="0.25">0</text>
<text transform="translate(751.5,1200) scale(1.060,1)" font-size="25" text-anchor="end" fill="#161616" stroke="#161616" stroke-width="0.25">0.2</text>
<text transform="translate(751.5,1137.8) scale(1.060,1)" font-size="25" text-anchor="end" fill="#161616" stroke="#161616" stroke-width="0.25">0.4</text>
<text transform="translate(751.5,1075.7) scale(1.060,1)" font-size="25" text-anchor="end" fill="#161616" stroke="#161616" stroke-width="0.25">0.6</text>
<text transform="translate(751.5,1013.5) scale(1.060,1)" font-size="25" text-anchor="end" fill="#161616" stroke="#161616" stroke-width="0.25">0.8</text>
<text transform="translate(751.5,951.2) scale(1.060,1)" font-size="25" text-anchor="end" fill="#161616" stroke="#161616" stroke-width="0.25">1</text>
<text transform="translate(971.9,1327.2) scale(1.105,1)" font-size="26.4" text-anchor="middle" fill="#161616" stroke="#161616" stroke-width="0.25">Pixels</text>
<text transform="translate(701.7,1096.3) rotate(-90) scale(1.086,1)" font-size="26.8" text-anchor="middle" fill="#161616" stroke="#161616" stroke-width="0.25">Normalised correlation value</text>
<rect x="940.2" y="954.2" width="231.2" height="67.6" fill="#fff" stroke="#6a6a6a" stroke-width="1.3"/>
<path d="M944.8,972.3H984.9" stroke="#1f78c6" stroke-width="3.0"/>
<path d="M944.8,1004.4H984.9" stroke="#e8602a" stroke-width="3.0"/>
<text transform="translate(989,981.6) scale(1.023,1)" font-size="23.4" text-anchor="start" fill="#161616" stroke="#161616" stroke-width="0.25">autocorrelation</text>
<text transform="translate(989,1013.8) scale(1.023,1)" font-size="23.4" text-anchor="start" fill="#161616" stroke="#161616" stroke-width="0.25">cross-correlation</text></g>
<g><clipPath id="c6"><rect x="187" y="1370" width="444" height="344"/></clipPath>
<path d="M188,1711.6C192.9,1711.5 208,1711.1 217.5,1711C227,1710.8 238.9,1711 245,1710.7C251.2,1710.5 251.5,1710 254.4,1709.2C257.2,1708.4 259.8,1707.6 262.1,1706.1C264.4,1704.5 266.6,1702.2 268.4,1699.8C270.2,1697.5 271.7,1694.4 273,1692.1C274.3,1689.7 274.9,1687.4 276.2,1685.8C277.5,1684.3 279.4,1684 280.8,1682.7C282.2,1681.4 283.7,1680.4 284.7,1678C285.8,1675.7 286.3,1672.9 287.1,1668.7C287.9,1664.5 288.6,1658.3 289.4,1653.1C290.1,1647.9 290.9,1642.7 291.7,1637.5C292.5,1632.3 293.3,1626.9 294.1,1622C294.9,1617 295.5,1612.3 296.4,1607.9C297.3,1603.5 298.5,1599.1 299.5,1595.5C300.6,1591.9 301.5,1589.3 302.6,1586.1C303.8,1583 305.2,1579.4 306.5,1576.8C307.8,1574.2 309,1572.1 310.4,1570.6C311.9,1569 313.5,1568 315.1,1567.5C316.6,1566.9 318.6,1568.2 319.8,1567.5C321,1566.7 321.4,1565.4 322.1,1562.8C322.7,1560.2 323.2,1556.3 323.6,1551.9C324.1,1547.5 324.4,1541.5 324.7,1536.3C325.1,1531.1 325.3,1527.2 325.7,1520.7C326,1514.3 326.4,1505.2 326.8,1497.4C327.2,1489.6 327.7,1481.8 328,1474C328.4,1466.2 328.7,1458.5 329.1,1450.7C329.5,1442.9 329.9,1435.1 330.3,1427.3C330.7,1419.5 331,1410.4 331.4,1403.9C331.9,1397.4 332.5,1392.8 333,1388.4C333.5,1384 334,1380.1 334.5,1377.5C335,1374.9 335.5,1372.8 336.1,1372.8C336.6,1372.8 337.2,1374.9 337.7,1377.5C338.2,1380.1 338.8,1382.7 339.2,1388.4C339.7,1394.1 340.1,1403.9 340.5,1411.7C340.9,1419.5 341.1,1427.3 341.5,1435.1C341.9,1442.9 342.4,1450.7 342.8,1458.4C343.2,1466.2 343.6,1474 343.9,1481.8C344.2,1489.6 344.3,1497.4 344.7,1505.2C345,1512.9 345.6,1522 345.9,1528.5C346.3,1535 346.5,1539.4 347,1544.1C347.4,1548.8 347.9,1552.9 348.6,1556.5C349.2,1560.2 350,1563.8 350.9,1565.9C351.8,1568 352.6,1568.3 354,1569C355.5,1569.8 357.9,1569.5 359.5,1570.6C361,1571.6 362.2,1573.2 363.3,1575.2C364.5,1577.3 365.5,1579.7 366.5,1583C367.5,1586.4 368.7,1591.3 369.6,1595.5C370.5,1599.6 371.2,1603.5 371.9,1607.9C372.7,1612.3 373.5,1617.5 374.2,1622C375,1626.4 375.8,1630.3 376.6,1634.4C377.4,1638.6 378.2,1643 378.9,1646.9C379.7,1650.8 380.5,1654.2 381.3,1657.8C382.1,1661.4 382.8,1665.6 383.6,1668.7C384.4,1671.8 384.9,1674.1 385.9,1676.5C387,1678.8 388.4,1681.2 389.8,1682.7C391.3,1684.3 392.9,1684 394.5,1685.8C396,1687.6 397.4,1691 399.2,1693.6C401,1696.2 403.1,1699.3 405.4,1701.4C407.7,1703.5 410.1,1704.8 413.2,1706.1C416.3,1707.4 420.5,1708.4 424.1,1709.2C427.7,1710 428.3,1710.2 435,1710.7C441.7,1711.3 456.3,1712.1 464.2,1712.3C472.2,1712.6 479.6,1712.3 482.7,1712.3" fill="none" stroke="#1f78c6" stroke-width="3.0" stroke-linejoin="round" stroke-linecap="round" clip-path="url(#c6)"/>
<path d="M188,1708.9C191.2,1708.5 201,1707.2 207.2,1706.5C213.3,1705.8 218.5,1704.9 224.8,1704.8C231.1,1704.7 240.4,1706.1 245,1706.1C249.7,1706 250.2,1705.3 252.8,1704.5C255.3,1703.7 258.5,1702.7 260.6,1701.4C262.6,1700.1 263.7,1698.8 265.3,1696.7C266.8,1694.7 268.5,1691.5 269.9,1688.9C271.3,1686.3 272.4,1683.5 273.8,1681.2C275.2,1678.8 277,1677.8 278.5,1674.9C279.9,1672.1 281.2,1668.2 282.4,1664C283.5,1659.9 284.6,1654.9 285.5,1650C286.4,1645.1 287,1639.9 287.8,1634.4C288.6,1629 289.4,1622.7 290.2,1617.3C291,1611.8 291.8,1606.9 292.5,1601.7C293.3,1596.5 293.9,1591.6 294.8,1586.1C295.7,1580.7 297.1,1574.2 298,1569C298.9,1563.8 299.5,1559.9 300.3,1555C301,1550.1 301.8,1544.1 302.6,1539.4C303.4,1534.8 304.2,1531.1 305,1527C305.8,1522.8 306.4,1517.4 307.3,1514.5C308.2,1511.7 309.3,1510.3 310.4,1509.8C311.6,1509.3 313,1510.6 314.3,1511.4C315.6,1512.2 317,1515 318.2,1514.5C319.3,1514 320.6,1511.1 321.3,1508.3C322.1,1505.4 322.4,1501.8 322.9,1497.4C323.4,1493 323.9,1487 324.4,1481.8C324.9,1476.6 325.5,1472.7 326,1466.2C326.5,1459.7 327,1450.6 327.5,1442.9C328,1435.1 328.5,1426 329.1,1419.5C329.6,1413 330,1409.6 330.7,1403.9C331.3,1398.2 332.2,1390.2 333,1385.2C333.7,1380.3 334.7,1376.6 335.3,1374.4C335.9,1372.1 336.1,1371.7 336.6,1372C337.1,1372.3 337.7,1371.9 338.4,1375.9C339.1,1379.9 340.1,1388.9 340.8,1396.1C341.4,1403.4 341.8,1410.4 342.3,1419.5C342.8,1428.6 343.4,1441.6 343.9,1450.7C344.4,1459.8 344.9,1466.2 345.4,1474C345.9,1481.8 346.3,1490.1 347,1497.4C347.6,1504.6 348.4,1512.2 349.3,1517.6C350.2,1523.1 351.4,1527.2 352.4,1530.1C353.5,1532.9 354.5,1534.5 355.6,1534.8C356.6,1535 357.5,1533 358.7,1531.7C359.9,1530.4 361.4,1527 362.6,1527C363.8,1527 364.8,1528.8 365.7,1531.7C366.6,1534.5 367.4,1540 368,1544.1C368.7,1548.3 369.1,1551.4 369.6,1556.5C370.1,1561.7 370.6,1569.5 371.1,1575.2C371.7,1580.9 372.2,1585.6 372.7,1590.8C373.2,1596 373.6,1601.2 374.2,1606.4C374.9,1611.6 375.8,1616.8 376.6,1622C377.4,1627.1 378.2,1632.3 378.9,1637.5C379.7,1642.7 380.5,1648.4 381.3,1653.1C382.1,1657.8 382.7,1661.9 383.6,1665.6C384.5,1669.2 385.5,1672.3 386.8,1674.9C388.1,1677.5 389.8,1679.1 391.4,1681.2C392.9,1683.2 394.5,1685.1 396,1687.4C397.6,1689.7 398.9,1692.8 400.7,1695.2C402.6,1697.5 404.6,1699.6 406.9,1701.4C409.3,1703.2 411.9,1704.9 414.7,1706.1C417.6,1707.2 420.7,1707.7 424.1,1708.4C427.5,1709 428.3,1709.6 435,1710C441.7,1710.3 456.3,1710.7 464.2,1710.6C472.2,1710.6 479.6,1709.8 482.7,1709.6" fill="none" stroke="#e8602a" stroke-width="3.0" stroke-linejoin="round" stroke-linecap="round" clip-path="url(#c6)"/>
<rect x="188" y="1372" width="442" height="341" fill="none" stroke="#8a8a8a" stroke-width="1.6"/>
<path d="M335.3,1713v-4 M335.3,1372v4 M482.7,1713v-4 M482.7,1372v4 M188,1644.8h4 M630,1644.8h-4 M188,1576.6h4 M630,1576.6h-4 M188,1508.4h4 M630,1508.4h-4 M188,1440.2h4 M630,1440.2h-4" stroke="#777" stroke-width="1.2" fill="none"/>
<text transform="translate(188,1752) scale(1.040,1)" font-size="27" text-anchor="middle" fill="#161616" stroke="#161616" stroke-width="0.25">0</text>
<text transform="translate(335.3,1752) scale(1.040,1)" font-size="27" text-anchor="middle" fill="#161616" stroke="#161616" stroke-width="0.25">200</text>
<text transform="translate(482.7,1752) scale(1.040,1)" font-size="27" text-anchor="middle" fill="#161616" stroke="#161616" stroke-width="0.25">400</text>
<text transform="translate(630,1752) scale(1.040,1)" font-size="27" text-anchor="middle" fill="#161616" stroke="#161616" stroke-width="0.25">600</text>
<text transform="translate(178.5,1724) scale(1.040,1)" font-size="27" text-anchor="end" fill="#161616" stroke="#161616" stroke-width="0.25">0</text>
<text transform="translate(178.5,1655.8) scale(1.040,1)" font-size="27" text-anchor="end" fill="#161616" stroke="#161616" stroke-width="0.25">0.2</text>
<text transform="translate(178.5,1587.5) scale(1.040,1)" font-size="27" text-anchor="end" fill="#161616" stroke="#161616" stroke-width="0.25">0.4</text>
<text transform="translate(178.5,1519.4) scale(1.040,1)" font-size="27" text-anchor="end" fill="#161616" stroke="#161616" stroke-width="0.25">0.6</text>
<text transform="translate(178.5,1451.2) scale(1.040,1)" font-size="27" text-anchor="end" fill="#161616" stroke="#161616" stroke-width="0.25">0.8</text>
<text transform="translate(178.5,1383) scale(1.040,1)" font-size="27" text-anchor="end" fill="#161616" stroke="#161616" stroke-width="0.25">1</text>
<text transform="translate(408.2,1794) scale(1.020,1)" font-size="29.7" text-anchor="middle" fill="#161616" stroke="#161616" stroke-width="0.25">Pixels</text>
<text transform="translate(127.1,1541) rotate(-90) scale(1.097,1)" font-size="28.8" text-anchor="middle" fill="#161616" stroke="#161616" stroke-width="0.25">Normalised correlation value</text>
<rect x="374.6" y="1386.8" width="241.9" height="73.8" fill="#fff" stroke="#6a6a6a" stroke-width="1.3"/>
<path d="M379.9,1406.2H421.5" stroke="#1f78c6" stroke-width="3.0"/>
<path d="M379.9,1441.8H421.5" stroke="#e8602a" stroke-width="3.0"/>
<text transform="translate(425.7,1416.3) scale(1.004,1)" font-size="25.2" text-anchor="start" fill="#161616" stroke="#161616" stroke-width="0.25">autocorrelation</text>
<text transform="translate(425.7,1451.9) scale(1.004,1)" font-size="25.2" text-anchor="start" fill="#161616" stroke="#161616" stroke-width="0.25">cross-correlation</text></g>
<g><clipPath id="c7"><rect x="748" y="1365" width="449" height="352"/></clipPath>
<path d="M749,1714.6C754,1714.5 769.5,1714.3 778.8,1713.9C788.1,1713.6 799.3,1713 805,1712.5C810.8,1712 810.5,1711.9 813.2,1710.8C816,1709.7 819,1707.8 821.4,1705.9C823.9,1704 826.2,1701.5 828,1699.4C829.7,1697.2 830.8,1694.7 832.1,1692.8C833.3,1690.9 834.3,1689.1 835.3,1687.9C836.4,1686.6 837.5,1685.7 838.6,1685.4C839.7,1685.1 840.8,1686.9 841.9,1686.2C843,1685.5 844.1,1683.8 845.2,1681.3C846.3,1678.8 847.5,1675.3 848.5,1671.5C849.4,1667.6 850.1,1663.3 850.9,1658.3C851.7,1653.4 852.6,1647.4 853.4,1642C854.2,1636.5 855,1630.8 855.8,1625.6C856.7,1620.4 857.5,1615.5 858.3,1610.8C859.1,1606.2 859.8,1601.8 860.8,1597.7C861.7,1593.6 862.9,1589.8 864,1586.2C865.1,1582.7 866.2,1578.9 867.3,1576.4C868.4,1573.9 869.4,1572.8 870.6,1571.5C871.8,1570.1 873.2,1568.7 874.7,1568.2C876.2,1567.7 878.2,1568.5 879.6,1568.2C881,1567.9 881.9,1568.5 882.9,1566.6C883.8,1564.6 884.7,1561.1 885.3,1556.7C885.9,1552.3 886.1,1545.8 886.5,1540.3C886.8,1534.9 887.1,1530.8 887.5,1523.9C887.9,1517.1 888.2,1507.5 888.6,1499.3C889,1491.1 889.3,1483 889.7,1474.8C890.1,1466.6 890.7,1458.4 891.1,1450.2C891.5,1442 891.8,1433.8 892.2,1425.6C892.6,1417.4 893.1,1408.6 893.5,1401C894,1393.3 894.5,1384.9 894.9,1379.7C895.3,1374.5 895.6,1371.9 896,1369.8C896.4,1367.8 896.7,1366.8 897.1,1367.4C897.5,1367.9 898,1368.9 898.4,1373.1C898.9,1377.3 899.3,1386 899.8,1392.8C900.3,1399.6 900.8,1407.3 901.4,1414.1C902,1420.9 902.9,1427.8 903.4,1433.8C903.8,1439.8 903.9,1443.3 904.2,1450.2C904.5,1457 904.6,1466.6 905,1474.8C905.4,1483 905.9,1492.5 906.3,1499.3C906.8,1506.2 907,1508.9 907.5,1515.7C907.9,1522.6 908.6,1533.5 909.1,1540.3C909.6,1547.1 910.1,1552.3 910.7,1556.7C911.4,1561.1 912.2,1564.6 913.2,1566.6C914.2,1568.5 915.2,1567.7 916.5,1568.2C917.7,1568.7 919.2,1569 920.6,1569.8C921.9,1570.7 923.4,1571.5 924.7,1573.1C925.9,1574.8 926.9,1576.9 927.9,1579.7C929,1582.4 930.1,1585.7 931.2,1589.5C932.3,1593.3 933.4,1598 934.5,1602.6C935.6,1607.3 936.8,1612.7 937.8,1617.4C938.7,1622 939.4,1626.1 940.2,1630.5C941.1,1634.9 941.9,1639 942.7,1643.6C943.5,1648.3 944.3,1653.7 945.2,1658.3C946,1663 946.7,1667.4 947.6,1671.5C948.6,1675.6 949.5,1680.5 950.9,1682.9C952.3,1685.4 954.3,1685.4 955.8,1686.2C957.3,1687.1 958.7,1686.5 959.9,1687.9C961.1,1689.2 962,1692.2 963.2,1694.4C964.4,1696.6 965.8,1699.1 967.3,1701C968.8,1702.9 970.3,1704.5 972.2,1705.9C974.1,1707.3 976,1708.4 978.8,1709.2C981.5,1710 984.2,1710.3 988.6,1710.8C993,1711.4 998.4,1711.7 1005,1712.5C1011.6,1713.2 1021.4,1714.8 1028.4,1715.3C1035.4,1715.8 1043.9,1715.3 1047,1715.3" fill="none" stroke="#1f78c6" stroke-width="3.0" stroke-linejoin="round" stroke-linecap="round" clip-path="url(#c7)"/>
<path d="M749,1710.6C754,1709.9 769.5,1707.4 778.8,1706.6C788.1,1705.8 799,1706.3 805,1705.9C811,1705.5 811.9,1704.8 814.9,1704.3C817.9,1703.7 820.9,1703.5 823.1,1702.6C825.2,1701.8 826.5,1700.4 828,1699.4C829.5,1698.3 830.6,1697.2 832.1,1696.1C833.6,1695 835.5,1693.9 837,1692.8C838.5,1691.7 839.6,1691.7 841.1,1689.5C842.6,1687.3 844.6,1683.2 846,1679.7C847.4,1676.1 848.2,1672.8 849.3,1668.2C850.4,1663.5 851.5,1656.7 852.6,1651.8C853.6,1646.9 854.7,1643.1 855.8,1638.7C856.9,1634.3 858,1629.9 859.1,1625.6C860.2,1621.2 861.3,1616.8 862.4,1612.5C863.5,1608.1 864.6,1603.7 865.7,1599.3C866.8,1595 867.9,1590.6 868.9,1586.2C870,1581.9 871.3,1577.5 872.2,1573.1C873.2,1568.7 873.9,1564.4 874.7,1560C875.5,1555.6 876.5,1551.5 877.1,1546.9C877.8,1542.2 878.2,1537.3 878.8,1532.1C879.3,1527 879.9,1521.2 880.4,1515.7C881,1510.3 881.5,1504.8 882.1,1499.3C882.6,1493.9 883.1,1489.8 883.7,1482.9C884.2,1476.1 884.8,1466.6 885.3,1458.4C885.9,1450.2 886.4,1442 887,1433.8C887.5,1425.6 887.9,1417.4 888.6,1409.2C889.3,1401 890.3,1391.2 891.1,1384.6C891.9,1378 892.8,1372.8 893.5,1369.8C894.3,1366.8 894.8,1366.5 895.5,1366.5C896.1,1366.5 896.9,1366.8 897.6,1369.8C898.3,1372.8 899.1,1378 899.8,1384.6C900.5,1391.2 901.1,1401.8 901.7,1409.2C902.3,1416.6 902.7,1423.4 903.4,1428.8C904,1434.3 904.9,1437.9 905.8,1442C906.8,1446.1 907.9,1449.6 909.1,1453.4C910.3,1457.3 911.7,1462.7 913.2,1464.9C914.7,1467.1 916.5,1466.3 918.1,1466.6C919.8,1466.8 921.5,1465.7 923,1466.6C924.5,1467.4 925.9,1469 927.1,1471.5C928.4,1473.9 929.5,1478 930.4,1481.3C931.4,1484.6 932,1487.3 932.9,1491.1C933.7,1495 934.6,1499.6 935.3,1504.3C936,1508.9 936.4,1513.8 937,1519C937.5,1524.2 938.1,1529.9 938.6,1535.4C939.1,1540.9 939.7,1546.6 940.2,1551.8C940.8,1557 941.3,1561.4 941.9,1566.6C942.4,1571.8 943,1577.8 943.5,1583C944.1,1588.1 944.6,1593 945.2,1597.7C945.7,1602.3 946.1,1605.9 946.8,1610.8C947.5,1615.7 948.4,1622 949.3,1627.2C950.1,1632.4 950.8,1637.3 951.7,1642C952.7,1646.6 953.8,1651 955,1655.1C956.2,1659.2 957.7,1663 959.1,1666.5C960.5,1670.1 961.8,1673.1 963.2,1676.4C964.6,1679.7 965.8,1683.2 967.3,1686.2C968.8,1689.2 970.3,1692 972.2,1694.4C974.1,1696.9 976.6,1699.1 978.8,1701C980.9,1702.9 982.6,1704.5 985.3,1705.9C988,1707.3 991.9,1708.2 995.1,1709.2C998.4,1710.1 999.4,1710.9 1005,1711.6C1010.5,1712.4 1021.4,1713.4 1028.4,1713.6C1035.4,1713.7 1043.9,1712.7 1047,1712.5" fill="none" stroke="#e8602a" stroke-width="3.0" stroke-linejoin="round" stroke-linecap="round" clip-path="url(#c7)"/>
<rect x="749" y="1367" width="447" height="349" fill="none" stroke="#8a8a8a" stroke-width="1.6"/>
<path d="M898,1716v-4 M898,1367v4 M1047,1716v-4 M1047,1367v4 M749,1646.2h4 M1196,1646.2h-4 M749,1576.4h4 M1196,1576.4h-4 M749,1506.6h4 M1196,1506.6h-4 M749,1436.8h4 M1196,1436.8h-4" stroke="#777" stroke-width="1.2" fill="none"/>
<text transform="translate(749,1756.5) scale(1.040,1)" font-size="27.5" text-anchor="middle" fill="#161616" stroke="#161616" stroke-width="0.25">0</text>
<text transform="translate(898,1756.5) scale(1.040,1)" font-size="27.5" text-anchor="middle" fill="#161616" stroke="#161616" stroke-width="0.25">200</text>
<text transform="translate(1047,1756.5) scale(1.040,1)" font-size="27.5" text-anchor="middle" fill="#161616" stroke="#161616" stroke-width="0.25">400</text>
<text transform="translate(1196,1756.5) scale(1.040,1)" font-size="27.5" text-anchor="middle" fill="#161616" stroke="#161616" stroke-width="0.25">600</text>
<text transform="translate(739.5,1727.1) scale(1.040,1)" font-size="27.5" text-anchor="end" fill="#161616" stroke="#161616" stroke-width="0.25">0</text>
<text transform="translate(739.5,1657.3) scale(1.040,1)" font-size="27.5" text-anchor="end" fill="#161616" stroke="#161616" stroke-width="0.25">0.2</text>
<text transform="translate(739.5,1587.5) scale(1.040,1)" font-size="27.5" text-anchor="end" fill="#161616" stroke="#161616" stroke-width="0.25">0.4</text>
<text transform="translate(739.5,1517.7) scale(1.040,1)" font-size="27.5" text-anchor="end" fill="#161616" stroke="#161616" stroke-width="0.25">0.6</text>
<text transform="translate(739.5,1447.9) scale(1.040,1)" font-size="27.5" text-anchor="end" fill="#161616" stroke="#161616" stroke-width="0.25">0.8</text>
<text transform="translate(739.5,1378.1) scale(1.040,1)" font-size="27.5" text-anchor="end" fill="#161616" stroke="#161616" stroke-width="0.25">1</text>
<text transform="translate(971,1799.7) scale(1.013,1)" font-size="30.3" text-anchor="middle" fill="#161616" stroke="#161616" stroke-width="0.25">Pixels</text>
<text transform="translate(686.2,1539) rotate(-90) scale(1.113,1)" font-size="28.8" text-anchor="middle" fill="#161616" stroke="#161616" stroke-width="0.25">Normalised correlation value</text>
<rect x="938.1" y="1382" width="244.5" height="75.1" fill="#fff" stroke="#6a6a6a" stroke-width="1.3"/>
<path d="M943.2,1401.6H984.3" stroke="#1f78c6" stroke-width="3.0"/>
<path d="M943.2,1437.4H984.3" stroke="#e8602a" stroke-width="3.0"/>
<text transform="translate(988.6,1411.9) scale(1.004,1)" font-size="25.7" text-anchor="start" fill="#161616" stroke="#161616" stroke-width="0.25">autocorrelation</text>
<text transform="translate(988.6,1447.7) scale(1.004,1)" font-size="25.7" text-anchor="start" fill="#161616" stroke="#161616" stroke-width="0.25">cross-correlation</text></g>
<g><clipPath id="c8"><rect x="181" y="1858" width="450" height="343"/></clipPath>
<path d="M182,2198.6C185.7,2198.5 197.6,2198.1 204.4,2197.6C211.2,2197.2 218,2196.4 223.1,2195.9C228.2,2195.4 229.7,2195.9 235,2194.6C240.3,2193.3 250.3,2190.5 254.7,2188.1C259,2185.6 259.3,2182.9 261.2,2179.9C263.1,2176.9 264.6,2172.6 266.1,2170C267.7,2167.5 268.8,2165.7 270.3,2164.3C271.8,2162.9 273.7,2163.4 275.2,2161.9C276.7,2160.4 278.2,2158.3 279.3,2155.3C280.4,2152.3 281.1,2147.9 281.8,2143.8C282.4,2139.7 282.9,2135 283.4,2130.7C283.9,2126.3 284.4,2121.7 285,2117.6C285.5,2113.5 286.1,2109.9 286.6,2106.1C287.2,2102.3 287.7,2097.9 288.3,2094.6C288.8,2091.4 289.2,2088.6 289.9,2086.4C290.6,2084.3 291.3,2082.9 292.4,2081.5C293.5,2080.1 295.2,2079.9 296.5,2078.2C297.7,2076.6 298.9,2074.4 299.7,2071.7C300.6,2068.9 300.8,2065.6 301.4,2061.8C301.9,2058 302.5,2053.7 303,2048.7C303.6,2043.8 304.1,2037.2 304.7,2032.3C305.2,2027.4 305.8,2023.3 306.3,2019.2C306.9,2015.1 307.4,2011 308,2007.7C308.5,2004.4 309,2001.6 309.6,1999.5C310.2,1997.5 311,1995.5 311.7,1995.5C312.4,1995.5 313,1997.2 313.7,1999.5C314.5,2001.9 315.4,2006.6 316.2,2009.4C317,2012.1 318,2015.1 318.6,2015.9C319.3,2016.7 319.7,2016.5 320.3,2014.3C320.8,2012.1 321.3,2008 321.9,2002.8C322.4,1997.6 323,1990.5 323.5,1983.1C324,1975.8 324.4,1966.8 324.8,1958.6C325.2,1950.4 325.6,1942.2 326,1934C326.3,1925.8 326.7,1917.6 327.2,1909.4C327.6,1901.2 327.9,1891.6 328.4,1884.8C328.9,1878 329.6,1872.5 330.1,1868.4C330.6,1864.3 331.1,1861.7 331.4,1860.2C331.7,1858.7 331.8,1858 332.1,1859.4C332.4,1860.8 332.9,1862.8 333.3,1868.4C333.8,1874 334.4,1884.8 335,1893C335.5,1901.2 336.1,1909.4 336.6,1917.6C337.1,1925.8 337.6,1934 338,1942.2C338.4,1950.4 338.6,1958.6 339.1,1966.8C339.6,1975 340.2,1984.5 340.7,1991.3C341.3,1998.2 341.8,2003.6 342.4,2007.7C343,2011.8 343.8,2014.8 344.5,2015.9C345.2,2017 345.7,2016.2 346.5,2014.3C347.2,2012.4 348.1,2007.5 349,2004.5C349.8,2001.5 350.7,1997.6 351.4,1996.3C352.2,1994.9 352.7,1994.9 353.4,1996.3C354,1997.6 354.9,2001.2 355.5,2004.5C356.2,2007.7 356.6,2011.3 357.2,2015.9C357.7,2020.6 358.2,2026.8 358.7,2032.3C359.3,2037.8 359.8,2043.3 360.4,2048.7C360.9,2054.2 361.5,2061 362,2065.1C362.6,2069.2 362.8,2070.9 363.7,2073.3C364.5,2075.8 365.9,2078 366.9,2079.9C368,2081.8 369.3,2082.9 370.2,2084.8C371.2,2086.7 371.9,2088.6 372.7,2091.3C373.5,2094.1 374.5,2097.4 375.2,2101.2C375.8,2105 376.3,2109.9 376.8,2114.3C377.4,2118.7 377.9,2123 378.4,2127.4C379,2131.8 379.5,2136.4 380.1,2140.5C380.6,2144.6 381.2,2148.7 381.7,2152C382.3,2155.3 382.6,2158 383.4,2160.2C384.2,2162.4 385.4,2163.8 386.7,2165.1C387.9,2166.5 389.4,2167 390.8,2168.4C392.1,2169.7 393.4,2171.1 394.8,2173.3C396.2,2175.5 397.4,2179 398.9,2181.5C400.4,2184 401.9,2186.4 403.8,2188.1C405.8,2189.7 407.9,2190.5 410.4,2191.3C412.9,2192.2 415.9,2192.4 418.6,2193C421.4,2193.5 424.1,2194.1 426.8,2194.6C429.6,2195.2 429.1,2195.5 435,2196.3C440.8,2197 454.4,2198.8 462,2199.3C469.6,2199.8 477.6,2199.3 480.7,2199.3" fill="none" stroke="#1f78c6" stroke-width="3.0" stroke-linejoin="round" stroke-linecap="round" clip-path="url(#c8)"/>
<path d="M182,2193.9C185.2,2193.1 194.6,2190.7 201.4,2189.5C208.3,2188.3 217.5,2187.8 223.1,2186.7C228.7,2185.7 231.7,2184.3 235,2183.1C238.4,2182 240.5,2181.2 243.2,2179.9C246,2178.5 249.2,2176.3 251.4,2174.9C253.5,2173.6 254.8,2173 256.3,2171.7C257.8,2170.3 259.2,2168.7 260.4,2166.7C261.6,2164.8 262.6,2163.7 263.7,2160.2C264.8,2156.6 265.9,2148.7 267,2145.4C268.1,2142.2 269,2142.2 270.3,2140.5C271.5,2138.9 273.1,2137.8 274.4,2135.6C275.6,2133.4 276.8,2131 277.6,2127.4C278.5,2123.9 278.7,2119.2 279.3,2114.3C279.8,2109.4 280.4,2103.4 280.9,2097.9C281.5,2092.4 282,2087 282.6,2081.5C283.1,2076 283.6,2070 284.1,2065.1C284.7,2060.2 285.2,2055.3 285.8,2052C286.3,2048.7 286.7,2047.6 287.4,2045.4C288.1,2043.2 288.8,2040.5 289.9,2038.9C291,2037.2 292.8,2036.7 294,2035.6C295.2,2034.5 296.5,2033.9 297.3,2032.3C298.1,2030.7 298.4,2028.5 298.9,2025.8C299.5,2023.1 300,2020.3 300.6,2015.9C301.1,2011.5 301.7,2005 302.2,1999.5C302.8,1994.1 303.3,1988.6 303.9,1983.1C304.4,1977.7 305,1971.7 305.5,1966.8C306,1961.8 306.5,1957.5 307.1,1953.6C307.8,1949.8 308.8,1945.6 309.6,1943.8C310.4,1942 311.2,1942.4 312.1,1943C312.9,1943.5 313.7,1945.8 314.5,1947.1C315.4,1948.3 316.2,1950.4 317,1950.4C317.8,1950.4 318.8,1949.8 319.5,1947.1C320.1,1944.3 320.5,1938.9 321,1934C321.6,1929.1 322,1923 322.7,1917.6C323.3,1912.1 324.2,1906.6 324.8,1901.2C325.5,1895.7 326,1890.2 326.8,1884.8C327.5,1879.3 328.6,1872.5 329.2,1868.4C329.9,1864.3 330.5,1861.8 330.9,1860.2C331.3,1858.6 331.3,1857.8 331.7,1858.6C332.1,1859.4 332.8,1860.7 333.3,1865.1C333.9,1869.5 334.4,1877.4 335,1884.8C335.5,1892.2 336,1901.2 336.6,1909.4C337.3,1917.6 338.3,1926.6 339.1,1934C339.9,1941.4 340.7,1948.7 341.6,1953.6C342.4,1958.5 343.2,1961.5 344,1963.5C344.8,1965.4 345.7,1965.1 346.5,1965.1C347.3,1965.1 348.1,1963.2 349,1963.5C349.8,1963.7 350.7,1964.8 351.4,1966.8C352.1,1968.7 352.5,1971.4 353.1,1975C353.6,1978.5 354.2,1983.2 354.7,1988.1C355.3,1993 355.8,1999 356.3,2004.5C356.9,2009.9 357.4,2015.4 357.9,2020.9C358.4,2026.3 359,2032.1 359.6,2037.2C360.1,2042.4 360.5,2047.9 361.2,2052C361.9,2056.1 362.7,2060.2 363.7,2061.8C364.6,2063.5 365.9,2061.8 366.9,2061.8C368,2061.8 369.3,2061 370.2,2061.8C371.2,2062.6 371.9,2064 372.7,2066.8C373.5,2069.5 374.5,2073.9 375.2,2078.2C375.8,2082.6 376.3,2088.1 376.8,2093C377.4,2097.9 377.9,2102.8 378.4,2107.7C379,2112.6 379.5,2117.6 380.1,2122.5C380.6,2127.4 381.2,2132.6 381.7,2137.2C382.3,2141.9 382.7,2146.5 383.4,2150.4C384.1,2154.2 384.7,2157.7 385.8,2160.2C386.9,2162.6 388.6,2163.5 389.9,2165.1C391.3,2166.8 392.7,2167.9 394.1,2170C395.4,2172.2 396.6,2175.5 398.1,2178.2C399.6,2181 401,2184.3 403,2186.4C405.1,2188.6 407.8,2190.2 410.4,2191.3C413,2192.4 415.9,2192.3 418.6,2193C421.4,2193.7 424.1,2194.6 426.8,2195.4C429.6,2196.3 429.1,2197.5 435,2197.9C440.8,2198.3 454.4,2197.8 462,2197.6C469.6,2197.4 477.6,2196.8 480.7,2196.6" fill="none" stroke="#e8602a" stroke-width="3.0" stroke-linejoin="round" stroke-linecap="round" clip-path="url(#c8)"/>
<rect x="182" y="1860" width="448" height="340" fill="none" stroke="#8a8a8a" stroke-width="1.6"/>
<path d="M331.3,2200v-4 M331.3,1860v4 M480.7,2200v-4 M480.7,1860v4 M182,2132h4 M630,2132h-4 M182,2064h4 M630,2064h-4 M182,1996h4 M630,1996h-4 M182,1928h4 M630,1928h-4" stroke="#777" stroke-width="1.2" fill="none"/>
<text transform="translate(182,2239.5) scale(1.040,1)" font-size="27" text-anchor="middle" fill="#161616" stroke="#161616" stroke-width="0.25">0</text>
<text transform="translate(331.3,2239.5) scale(1.040,1)" font-size="27" text-anchor="middle" fill="#161616" stroke="#161616" stroke-width="0.25">200</text>
<text transform="translate(480.7,2239.5) scale(1.040,1)" font-size="27" text-anchor="middle" fill="#161616" stroke="#161616" stroke-width="0.25">400</text>
<text transform="translate(630,2239.5) scale(1.040,1)" font-size="27" text-anchor="middle" fill="#161616" stroke="#161616" stroke-width="0.25">600</text>
<text transform="translate(172.5,2210.9) scale(1.040,1)" font-size="27" text-anchor="end" fill="#161616" stroke="#161616" stroke-width="0.25">0</text>
<text transform="translate(172.5,2142.9) scale(1.040,1)" font-size="27" text-anchor="end" fill="#161616" stroke="#161616" stroke-width="0.25">0.2</text>
<text transform="translate(172.5,2074.9) scale(1.040,1)" font-size="27" text-anchor="end" fill="#161616" stroke="#161616" stroke-width="0.25">0.4</text>
<text transform="translate(172.5,2007) scale(1.040,1)" font-size="27" text-anchor="end" fill="#161616" stroke="#161616" stroke-width="0.25">0.6</text>
<text transform="translate(172.5,1939) scale(1.040,1)" font-size="27" text-anchor="end" fill="#161616" stroke="#161616" stroke-width="0.25">0.8</text>
<text transform="translate(172.5,1871) scale(1.040,1)" font-size="27" text-anchor="end" fill="#161616" stroke="#161616" stroke-width="0.25">1</text>
<text transform="translate(405,2281.3) scale(1.029,1)" font-size="29.7" text-anchor="middle" fill="#161616" stroke="#161616" stroke-width="0.25">Pixels</text>
<text transform="translate(120,2030) rotate(-90) scale(1.107,1)" font-size="28.8" text-anchor="middle" fill="#161616" stroke="#161616" stroke-width="0.25">Normalised correlation value</text>
<rect x="371.7" y="1874.3" width="244.1" height="73.5" fill="#fff" stroke="#6a6a6a" stroke-width="1.3"/>
<path d="M377,1894.5H418" stroke="#1f78c6" stroke-width="3.0"/>
<path d="M377,1928H418" stroke="#e8602a" stroke-width="3.0"/>
<text transform="translate(422.2,1904.6) scale(1.004,1)" font-size="25.2" text-anchor="start" fill="#161616" stroke="#161616" stroke-width="0.25">autocorrelation</text>
<text transform="translate(422.2,1938.1) scale(1.004,1)" font-size="25.2" text-anchor="start" fill="#161616" stroke="#161616" stroke-width="0.25">cross-correlation</text></g>
<g><clipPath id="c9"><rect x="748" y="1859" width="449" height="351"/></clipPath>
<path d="M749,2208C753,2207.7 765.6,2207.2 772.8,2206.6C780,2205.9 786,2205.1 792.2,2204.1C798.5,2203.2 805.6,2202.4 810.3,2201C815.1,2199.6 818.1,2197.5 820.7,2195.8C823.3,2194.1 824.2,2193 825.8,2190.7C827.4,2188.4 828.7,2184.6 830.1,2182.1C831.6,2179.5 832.9,2176.9 834.5,2175.2C836,2173.5 837.9,2173.2 839.6,2171.7C841.3,2170.3 843.3,2169.1 844.7,2166.5C846.2,2164 847.3,2160 848.2,2156.2C849,2152.5 849.4,2148.5 849.9,2144.2C850.5,2139.9 851.1,2135.6 851.7,2130.4C852.2,2125.3 852.8,2118.4 853.4,2113.2C853.9,2108 854.5,2103.1 855.1,2099.4C855.7,2095.7 856.1,2093.1 856.8,2090.8C857.5,2088.5 858.4,2087.1 859.4,2085.7C860.4,2084.2 861.7,2083.9 862.8,2082.2C864,2080.5 865.4,2078.2 866.3,2075.3C867.1,2072.5 867.4,2069.3 868,2065C868.5,2060.7 869.1,2054.7 869.7,2049.5C870.3,2044.3 870.8,2039.2 871.4,2034C872,2028.9 872.6,2023.1 873.2,2018.5C873.8,2013.9 874.2,2009.6 874.9,2006.5C875.6,2003.3 876.6,2000.1 877.4,1999.6C878.3,1999 879.2,2000.7 880,2003C880.9,2005.3 881.8,2010.3 882.7,2013.4C883.5,2016.4 884.5,2020 885.2,2021.1C885.9,2022.3 886.3,2022.1 886.9,2020.2C887.5,2018.4 888.1,2014.5 888.6,2009.9C889.1,2005.3 889.4,1999.9 889.9,1992.7C890.3,1985.5 890.8,1975.5 891.2,1966.9C891.7,1958.3 892.2,1949.7 892.6,1941.1C893.1,1932.5 893.4,1923.9 893.8,1915.3C894.2,1906.6 894.6,1896.6 895,1889.4C895.4,1882.3 895.9,1876.4 896.4,1872.2C896.8,1868 897.2,1864.5 897.6,1864.5C898.1,1864.5 898.5,1868 899,1872.2C899.5,1876.4 900.1,1882.3 900.7,1889.4C901.3,1896.6 901.8,1906.6 902.4,1915.3C903,1923.9 903.5,1932.5 904.1,1941.1C904.7,1949.7 905.3,1958.3 905.9,1966.9C906.5,1975.5 907,1984.7 907.6,1992.7C908.2,2000.8 908.8,2010.4 909.3,2015.1C909.9,2019.8 910.4,2020.5 911,2021.1C911.7,2021.7 912.6,2021 913.3,2018.5C914,2016.1 914.6,2009.6 915.4,2006.5C916.1,2003.3 916.9,2000.1 917.6,1999.6C918.3,1999 919,2000.4 919.6,2003C920.2,2005.6 920.7,2010.5 921.3,2015.1C921.9,2019.7 922.5,2025.4 923.1,2030.6C923.7,2035.7 924.2,2040.9 924.8,2046.1C925.4,2051.2 926,2056.7 926.5,2061.6C927.1,2066.4 927.5,2071.6 928.2,2075.3C929,2079.1 929.8,2081.9 930.9,2083.9C931.9,2085.9 933.1,2085.9 934.3,2087.4C935.4,2088.8 936.7,2089.7 937.7,2092.5C938.7,2095.4 939.6,2100.3 940.3,2104.6C941,2108.9 941.5,2114 942,2118.3C942.6,2122.6 943.2,2126.1 943.7,2130.4C944.3,2134.7 944.9,2140.2 945.5,2144.2C946,2148.2 946.6,2151.3 947.2,2154.5C947.7,2157.7 948,2160.8 948.9,2163.1C949.7,2165.4 951,2166.8 952.3,2168.3C953.6,2169.7 955.3,2170.6 956.6,2171.7C957.9,2172.9 958.9,2173.5 960.1,2175.2C961.2,2176.9 962.3,2179.5 963.6,2182.1C964.9,2184.6 966.4,2188.4 967.8,2190.7C969.2,2193 970.3,2194.4 972.1,2195.8C974,2197.2 976.1,2198.1 979,2199.3C981.8,2200.4 985.9,2201.7 989.3,2202.7C992.8,2203.7 996.3,2204.4 999.7,2205.3C1003.1,2206.1 1005.2,2207.3 1010,2207.9C1014.8,2208.4 1022.2,2208.2 1028.4,2208.3C1034.5,2208.4 1043.9,2208.3 1047,2208.3" fill="none" stroke="#1f78c6" stroke-width="3.0" stroke-linejoin="round" stroke-linecap="round" clip-path="url(#c9)"/>
<path d="M749,2202.4C750.7,2202.1 755.5,2201.6 759.4,2200.6C763.4,2199.7 767.4,2198 772.8,2196.8C778.3,2195.7 786,2194.7 792.2,2193.7C798.5,2192.7 805.6,2192 810.3,2190.7C815.1,2189.3 817.8,2187.5 820.7,2185.5C823.5,2183.5 825.5,2181.2 827.5,2178.6C829.5,2176 831.3,2173.1 832.7,2170C834.2,2166.8 835,2163.4 836.2,2159.7C837.3,2156 838.4,2151.9 839.6,2147.6C840.7,2143.3 841.9,2138.2 843,2133.9C844.2,2129.6 845.3,2125.2 846.4,2121.8C847.6,2118.3 848.8,2116.1 849.9,2113.2C851.1,2110.3 852.2,2108 853.4,2104.6C854.5,2101.2 855.8,2096.8 856.8,2092.5C857.8,2088.2 858.6,2083.9 859.4,2078.8C860.3,2073.6 861.1,2067.3 861.9,2061.6C862.8,2055.8 863.7,2050.1 864.5,2044.4C865.4,2038.6 866.3,2032.3 867.2,2027.1C868,2022 868.7,2018.2 869.7,2013.4C870.7,2008.5 872.2,2002.7 873.2,1997.9C874.2,1993 874.9,1989.2 875.7,1984.1C876.6,1978.9 877.5,1972.6 878.3,1966.9C879.2,1961.2 880,1955.4 880.9,1949.7C881.7,1943.9 882.6,1938.2 883.5,1932.4C884.3,1926.7 885.2,1921.8 886.1,1915.3C886.9,1908.7 887.8,1899.5 888.6,1892.9C889.5,1886.3 890.4,1880.2 891.2,1875.7C892.1,1871.1 892.9,1867.8 893.8,1865.3C894.8,1862.9 895.9,1861 896.9,1861C897.9,1861 898.8,1862.9 899.9,1865.3C900.9,1867.8 902.1,1872.2 903.3,1875.7C904.4,1879.1 905.6,1882.5 906.7,1886C907.9,1889.4 909,1892.9 910.1,1896.3C911.3,1899.8 912.4,1903.6 913.6,1906.6C914.7,1909.6 915.9,1912.4 917.1,1914.4C918.2,1916.4 919.4,1917.1 920.5,1918.7C921.6,1920.3 922.8,1921 923.9,1923.8C925.1,1926.7 926.2,1930.7 927.4,1935.9C928.5,1941.1 929.8,1948.2 930.9,1954.8C931.9,1961.4 932.5,1968.3 933.4,1975.5C934.2,1982.7 935.1,1990.7 936,1997.9C936.9,2005 937.7,2012.2 938.6,2018.5C939.5,2024.9 940.3,2030 941.1,2035.7C942,2041.5 942.9,2047.2 943.7,2053C944.6,2058.7 945.4,2063.6 946.3,2070.1C947.1,2076.7 948,2085.3 948.9,2092.5C949.8,2099.7 950.6,2106.9 951.5,2113.2C952.3,2119.5 953.2,2125.3 954,2130.4C954.9,2135.6 955.6,2139.6 956.6,2144.2C957.6,2148.8 958.8,2153.6 960.1,2157.9C961.3,2162.3 962.9,2166.3 964.4,2170C965.8,2173.7 967.1,2176.9 968.7,2180.3C970.3,2183.8 971.8,2187.8 973.8,2190.7C975.9,2193.5 978.2,2195.8 980.8,2197.6C983.4,2199.3 986.2,2199.8 989.3,2201C992.5,2202.1 995.7,2203.6 999.7,2204.4C1003.7,2205.3 1008.1,2205.6 1013.5,2205.9C1018.9,2206.1 1026.5,2206 1032.1,2205.9C1037.7,2205.7 1044.5,2205 1047,2204.8" fill="none" stroke="#e8602a" stroke-width="3.0" stroke-linejoin="round" stroke-linecap="round" clip-path="url(#c9)"/>
<rect x="749" y="1861" width="447" height="348" fill="none" stroke="#8a8a8a" stroke-width="1.6"/>
<path d="M898,2209v-4 M898,1861v4 M1047,2209v-4 M1047,1861v4 M749,2139.4h4 M1196,2139.4h-4 M749,2069.8h4 M1196,2069.8h-4 M749,2000.2h4 M1196,2000.2h-4 M749,1930.6h4 M1196,1930.6h-4" stroke="#777" stroke-width="1.2" fill="none"/>
<text transform="translate(749,2249.5) scale(1.040,1)" font-size="27.5" text-anchor="middle" fill="#161616" stroke="#161616" stroke-width="0.25">0</text>
<text transform="translate(898,2249.5) scale(1.040,1)" font-size="27.5" text-anchor="middle" fill="#161616" stroke="#161616" stroke-width="0.25">200</text>
<text transform="translate(1047,2249.5) scale(1.040,1)" font-size="27.5" text-anchor="middle" fill="#161616" stroke="#161616" stroke-width="0.25">400</text>
<text transform="translate(1196,2249.5) scale(1.040,1)" font-size="27.5" text-anchor="middle" fill="#161616" stroke="#161616" stroke-width="0.25">600</text>
<text transform="translate(739.5,2220.1) scale(1.040,1)" font-size="27.5" text-anchor="end" fill="#161616" stroke="#161616" stroke-width="0.25">0</text>
<text transform="translate(739.5,2150.5) scale(1.040,1)" font-size="27.5" text-anchor="end" fill="#161616" stroke="#161616" stroke-width="0.25">0.2</text>
<text transform="translate(739.5,2080.9) scale(1.040,1)" font-size="27.5" text-anchor="end" fill="#161616" stroke="#161616" stroke-width="0.25">0.4</text>
<text transform="translate(739.5,2011.3) scale(1.040,1)" font-size="27.5" text-anchor="end" fill="#161616" stroke="#161616" stroke-width="0.25">0.6</text>
<text transform="translate(739.5,1941.7) scale(1.040,1)" font-size="27.5" text-anchor="end" fill="#161616" stroke="#161616" stroke-width="0.25">0.8</text>
<text transform="translate(739.5,1872.1) scale(1.040,1)" font-size="27.5" text-anchor="end" fill="#161616" stroke="#161616" stroke-width="0.25">1</text>
<text transform="translate(971,2292.2) scale(1.036,1)" font-size="29.7" text-anchor="middle" fill="#161616" stroke="#161616" stroke-width="0.25">Pixels</text>
<text transform="translate(686.2,2030.5) rotate(-90) scale(1.110,1)" font-size="28.8" text-anchor="middle" fill="#161616" stroke="#161616" stroke-width="0.25">Normalised correlation value</text>
<rect x="938.1" y="1875.3" width="244.5" height="75.7" fill="#fff" stroke="#6a6a6a" stroke-width="1.3"/>
<path d="M943.2,1896H984.3" stroke="#1f78c6" stroke-width="3.0"/>
<path d="M943.2,1931.8H984.3" stroke="#e8602a" stroke-width="3.0"/>
<text transform="translate(988.6,1906.3) scale(1.004,1)" font-size="25.7" text-anchor="start" fill="#161616" stroke="#161616" stroke-width="0.25">autocorrelation</text>
<text transform="translate(988.6,1942.1) scale(1.004,1)" font-size="25.7" text-anchor="start" fill="#161616" stroke="#161616" stroke-width="0.25">cross-correlation</text></g>
</g>
<g font-family="Liberation Serif, serif" fill="#000">
<text x="402.5" y="30.5" font-size="42" font-weight="bold" stroke="#000" stroke-width="0.5" font-style="italic">p</text>
<rect x="438" y="11.9" width="21.6" height="2.9" fill="#111"/><rect x="438" y="18.7" width="21.6" height="2.9" fill="#111"/>
<text x="471.5" y="30.5" font-size="42" font-weight="bold" stroke="#000" stroke-width="0.5">1</text>
<text x="919" y="35" font-size="42" font-weight="bold" stroke="#000" stroke-width="0.5" font-style="italic">p</text>
<rect x="953.5" y="16.4" width="22.1" height="2.9" fill="#111"/><rect x="953.5" y="23.2" width="22.1" height="2.9" fill="#111"/>
<text x="987" y="35" font-size="42" font-weight="bold" stroke="#000" stroke-width="0.5">2</text>
<text x="18.7" y="260.5" font-size="42" font-weight="bold" stroke="#000" stroke-width="0.5" font-style="italic">L</text>
<rect x="56.3" y="241.9" width="22.4" height="2.9" fill="#111"/><rect x="56.3" y="248.7" width="22.4" height="2.9" fill="#111"/>
<text x="89.9" y="260.5" font-size="42" font-weight="bold" stroke="#000" stroke-width="0.5">1</text>
<text x="14.7" y="677.5" font-size="42" font-weight="bold" stroke="#000" stroke-width="0.5" font-style="italic">L</text>
<rect x="51.2" y="658.8" width="21.5" height="2.9" fill="#111"/><rect x="51.2" y="665.6" width="21.5" height="2.9" fill="#111"/>
<text x="84" y="677.5" font-size="42" font-weight="bold" stroke="#000" stroke-width="0.5">2</text>
<text x="18.1" y="1094.3" font-size="42" font-weight="bold" stroke="#000" stroke-width="0.5" font-style="italic">L</text>
<rect x="54" y="1075.6" width="21.6" height="2.9" fill="#111"/><rect x="54" y="1082.4" width="21.6" height="2.9" fill="#111"/>
<text x="85.7" y="1094.3" font-size="42" font-weight="bold" stroke="#000" stroke-width="0.5">3</text>
<text x="3.2" y="1569.5" font-size="42" font-weight="bold" stroke="#000" stroke-width="0.5" font-style="italic">L</text>
<rect x="39" y="1550.8" width="21.7" height="2.9" fill="#111"/><rect x="39" y="1557.6" width="21.7" height="2.9" fill="#111"/>
<text x="70.8" y="1569.5" font-size="42" font-weight="bold" stroke="#000" stroke-width="0.5">4</text>
<text x="13" y="2044.3" font-size="42" font-weight="bold" stroke="#000" stroke-width="0.5" font-style="italic">L</text>
<rect x="39.7" y="2025.6" width="22.1" height="2.9" fill="#111"/><rect x="39.7" y="2032.4" width="22.1" height="2.9" fill="#111"/>
<text x="62.8" y="2044.3" font-size="42" font-weight="bold" stroke="#000" stroke-width="0.5">5</text>
</g>
</g>
</svg></body></html>
